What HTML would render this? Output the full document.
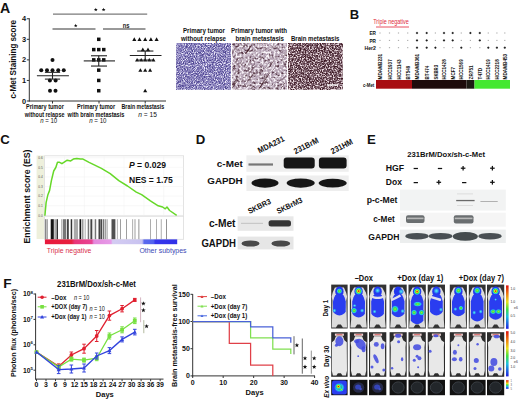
<!DOCTYPE html>
<html><head><meta charset="utf-8"><style>
html,body{margin:0;padding:0;background:#fff;}
svg{display:block;}
text{font-family:"Liberation Sans",sans-serif;}
</style></head><body>
<svg width="520" height="399" viewBox="0 0 520 399">
<text x="0" y="12.9" font-size="13.8" font-weight="bold" text-anchor="start" fill="#111" textLength="10.2" lengthAdjust="spacingAndGlyphs">A</text>
<line x1="29.3" y1="18.260000000000005" x2="29.3" y2="101.5" stroke="#333" stroke-width="1"/>
<line x1="28.8" y1="101.0" x2="166" y2="101.0" stroke="#333" stroke-width="1"/>
<line x1="26.8" y1="101.0" x2="29.3" y2="101.0" stroke="#333" stroke-width="1"/>
<text x="26.0" y="103.6" font-size="7.4" font-weight="bold" text-anchor="end" fill="#111">0</text>
<line x1="26.8" y1="80.44" x2="29.3" y2="80.44" stroke="#333" stroke-width="1"/>
<text x="26.0" y="83.03999999999999" font-size="7.4" font-weight="bold" text-anchor="end" fill="#111">1</text>
<line x1="26.8" y1="59.88" x2="29.3" y2="59.88" stroke="#333" stroke-width="1"/>
<text x="26.0" y="62.480000000000004" font-size="7.4" font-weight="bold" text-anchor="end" fill="#111">2</text>
<line x1="26.8" y1="39.32000000000001" x2="29.3" y2="39.32000000000001" stroke="#333" stroke-width="1"/>
<text x="26.0" y="41.92000000000001" font-size="7.4" font-weight="bold" text-anchor="end" fill="#111">3</text>
<line x1="26.8" y1="18.760000000000005" x2="29.3" y2="18.760000000000005" stroke="#333" stroke-width="1"/>
<text x="26.0" y="21.360000000000007" font-size="7.4" font-weight="bold" text-anchor="end" fill="#111">4</text>
<line x1="52.5" y1="101.0" x2="52.5" y2="103.5" stroke="#333" stroke-width="1"/>
<line x1="99" y1="101.0" x2="99" y2="103.5" stroke="#333" stroke-width="1"/>
<line x1="145.2" y1="101.0" x2="145.2" y2="103.5" stroke="#333" stroke-width="1"/>
<text x="16.0" y="59.3" font-size="8.4" font-weight="bold" text-anchor="middle" fill="#111" textLength="78.6" lengthAdjust="spacingAndGlyphs" transform="rotate(-90 16.0 59.3)">c-Met Staining score</text>
<line x1="53" y1="14.2" x2="147.2" y2="14.2" stroke="#7a7a7a" stroke-width="1.3"/>
<polygon points="95.80,7.70 96.29,9.02 97.70,9.08 96.60,9.96 96.98,11.32 95.80,10.54 94.62,11.32 95.00,9.96 93.90,9.08 95.31,9.02" fill="#111"/>
<polygon points="103.60,7.70 104.09,9.02 105.50,9.08 104.40,9.96 104.78,11.32 103.60,10.54 102.42,11.32 102.80,9.96 101.70,9.08 103.11,9.02" fill="#111"/>
<line x1="52.5" y1="29" x2="95.5" y2="29" stroke="#777" stroke-width="1.3"/>
<polygon points="75.70,23.70 76.17,24.95 77.51,25.01 76.46,25.85 76.82,27.14 75.70,26.40 74.58,27.14 74.94,25.85 73.89,25.01 75.23,24.95" fill="#111"/>
<line x1="103" y1="29" x2="145.5" y2="29" stroke="#777" stroke-width="1.3"/>
<text x="126.2" y="27.9" font-size="7" font-weight="bold" text-anchor="middle" fill="#222" textLength="6.8" lengthAdjust="spacingAndGlyphs">ns</text>
<circle cx="52.5" cy="59.88" r="2" fill="#111"/>
<circle cx="41.25" cy="70.16" r="2" fill="#111"/>
<circle cx="47" cy="70.16" r="2" fill="#111"/>
<circle cx="52.5" cy="70.16" r="2" fill="#111"/>
<circle cx="58.25" cy="70.16" r="2" fill="#111"/>
<circle cx="63.75" cy="70.16" r="2" fill="#111"/>
<circle cx="49.9" cy="80.44" r="2" fill="#111"/>
<circle cx="55.6" cy="80.44" r="2" fill="#111"/>
<circle cx="50" cy="90.72" r="2" fill="#111"/>
<circle cx="55.5" cy="90.72" r="2" fill="#111"/>
<line x1="36.9" y1="75.7112" x2="68.9" y2="75.7112" stroke="#222" stroke-width="1.1"/>
<line x1="44.9" y1="72.31880000000001" x2="60.1" y2="72.31880000000001" stroke="#222" stroke-width="1.1"/>
<line x1="44.9" y1="79.1036" x2="60.1" y2="79.1036" stroke="#222" stroke-width="1.1"/>
<line x1="52.5" y1="72.31880000000001" x2="52.5" y2="79.1036" stroke="#222" stroke-width="1.1"/>
<rect x="97.0" y="37.57000000000001" width="3.5" height="3.5" fill="#111" />
<rect x="92.0" y="47.85" width="3.5" height="3.5" fill="#111" />
<rect x="97.0" y="47.85" width="3.5" height="3.5" fill="#111" />
<rect x="102.0" y="47.85" width="3.5" height="3.5" fill="#111" />
<rect x="92.0" y="58.13" width="3.5" height="3.5" fill="#111" />
<rect x="97.0" y="58.13" width="3.5" height="3.5" fill="#111" />
<rect x="102.0" y="58.13" width="3.5" height="3.5" fill="#111" />
<rect x="97.0" y="68.41" width="3.5" height="3.5" fill="#111" />
<rect x="97.0" y="78.69" width="3.5" height="3.5" fill="#111" />
<rect x="97.0" y="88.97" width="3.5" height="3.5" fill="#111" />
<line x1="83.75" y1="60.908" x2="115" y2="60.908" stroke="#222" stroke-width="1.1"/>
<line x1="91" y1="55.768" x2="107" y2="55.768" stroke="#222" stroke-width="1.1"/>
<line x1="91" y1="66.048" x2="107" y2="66.048" stroke="#222" stroke-width="1.1"/>
<line x1="98.75" y1="55.768" x2="98.75" y2="66.048" stroke="#222" stroke-width="1.1"/>
<path d="M132.25 40.92L136.35 40.92L134.30 37.32Z" fill="#111"/>
<path d="M137.45 40.92L141.55 40.92L139.50 37.32Z" fill="#111"/>
<path d="M143.15 40.92L147.25 40.92L145.20 37.32Z" fill="#111"/>
<path d="M148.85 40.92L152.95 40.92L150.90 37.32Z" fill="#111"/>
<path d="M154.55 40.92L158.65 40.92L156.60 37.32Z" fill="#111"/>
<path d="M140.75 51.20L144.85 51.20L142.80 47.60Z" fill="#111"/>
<path d="M145.95 51.20L150.05 51.20L148.00 47.60Z" fill="#111"/>
<path d="M135.05 61.48L139.15 61.48L137.10 57.88Z" fill="#111"/>
<path d="M139.15 61.48L143.25 61.48L141.20 57.88Z" fill="#111"/>
<path d="M143.15 61.48L147.25 61.48L145.20 57.88Z" fill="#111"/>
<path d="M147.25 61.48L151.35 61.48L149.30 57.88Z" fill="#111"/>
<path d="M151.35 61.48L155.45 61.48L153.40 57.88Z" fill="#111"/>
<path d="M138.35 71.76L142.45 71.76L140.40 68.16Z" fill="#111"/>
<path d="M143.15 71.76L147.25 71.76L145.20 68.16Z" fill="#111"/>
<path d="M148.05 71.76L152.15 71.76L150.10 68.16Z" fill="#111"/>
<path d="M143.15 92.32L147.25 92.32L145.20 88.72Z" fill="#111"/>
<line x1="129.8" y1="55.562400000000004" x2="161.5" y2="55.562400000000004" stroke="#222" stroke-width="1.1"/>
<line x1="137.1" y1="51.0392" x2="153.4" y2="51.0392" stroke="#222" stroke-width="1.1"/>
<line x1="137.1" y1="60.0856" x2="153.4" y2="60.0856" stroke="#222" stroke-width="1.1"/>
<line x1="145.2" y1="51.0392" x2="145.2" y2="60.0856" stroke="#222" stroke-width="1.1"/>
<text x="44.9" y="109.2" font-size="6.3" font-weight="bold" text-anchor="middle" fill="#111" textLength="37.8" lengthAdjust="spacingAndGlyphs">Primary tumor</text>
<text x="44.6" y="116.9" font-size="6.3" font-weight="bold" text-anchor="middle" fill="#111" textLength="39.6" lengthAdjust="spacingAndGlyphs">without relapse</text>
<text x="48.65" y="123.3" font-size="6.4" font-weight="normal" text-anchor="middle" fill="#111" textLength="17" lengthAdjust="spacingAndGlyphs"><tspan font-style="italic">n</tspan> = 10</text>
<text x="96.15" y="109.2" font-size="6.3" font-weight="bold" text-anchor="middle" fill="#111" textLength="38.1" lengthAdjust="spacingAndGlyphs">Primary tumor</text>
<text x="96.0" y="116.9" font-size="6.3" font-weight="bold" text-anchor="middle" fill="#111" textLength="56.8" lengthAdjust="spacingAndGlyphs">with brain metastasis</text>
<text x="97.85" y="123.3" font-size="6.4" font-weight="normal" text-anchor="middle" fill="#111" textLength="17.3" lengthAdjust="spacingAndGlyphs"><tspan font-style="italic">n</tspan> = 10</text>
<text x="142.85" y="109.2" font-size="6.3" font-weight="bold" text-anchor="middle" fill="#111" textLength="42.7" lengthAdjust="spacingAndGlyphs">Brain metastasis</text>
<text x="147.65" y="116.9" font-size="6.4" font-weight="normal" text-anchor="middle" fill="#111" textLength="18.7" lengthAdjust="spacingAndGlyphs"><tspan font-style="italic">n</tspan> = 15</text>
<defs><filter id="d1" x="0" y="0" width="100%" height="100%" color-interpolation-filters="sRGB"><feTurbulence type="fractalNoise" baseFrequency="0.9" numOctaves="2" seed="3"/><feColorMatrix type="matrix" values="0 0 0 0 0.3  0 0 0 0 0.26  0 0 0 0 0.56  3.6 0 0 0 -1.4"/></filter><filter id="w1" x="0" y="0" width="100%" height="100%" color-interpolation-filters="sRGB"><feTurbulence type="fractalNoise" baseFrequency="0.9" numOctaves="2" seed="9"/><feColorMatrix type="matrix" values="0 0 0 0 0.93  0 0 0 0 0.92  0 0 0 0 0.98  3.6 0 0 0 -1.65"/></filter><filter id="d2" x="0" y="0" width="100%" height="100%" color-interpolation-filters="sRGB"><feTurbulence type="fractalNoise" baseFrequency="0.25 0.4" numOctaves="3" seed="11"/><feColorMatrix type="matrix" values="0 0 0 0 0.36  0 0 0 0 0.24  0 0 0 0 0.3  4.5 0 0 0 -2.15"/></filter><filter id="w2" x="0" y="0" width="100%" height="100%" color-interpolation-filters="sRGB"><feTurbulence type="fractalNoise" baseFrequency="0.5" numOctaves="2" seed="4"/><feColorMatrix type="matrix" values="0 0 0 0 0.96  0 0 0 0 0.94  0 0 0 0 0.96  4.5 0 0 0 -1.95"/></filter><filter id="d3" x="0" y="0" width="100%" height="100%" color-interpolation-filters="sRGB"><feTurbulence type="fractalNoise" baseFrequency="0.65" numOctaves="2" seed="5"/><feColorMatrix type="matrix" values="0 0 0 0 0.24  0 0 0 0 0.1  0 0 0 0 0.14  4.5 0 0 0 -1.85"/></filter><filter id="w3" x="0" y="0" width="100%" height="100%" color-interpolation-filters="sRGB"><feTurbulence type="fractalNoise" baseFrequency="0.75" numOctaves="2" seed="6"/><feColorMatrix type="matrix" values="0 0 0 0 0.92  0 0 0 0 0.86  0 0 0 0 0.88  4.5 0 0 0 -2.05"/></filter></defs>
<rect x="176.3" y="43" width="54.5" height="46.5" fill="#8a82c0" />
<rect x="176.3" y="43" width="54.5" height="46.5" fill="#000" filter="url(#d1)"/>
<rect x="176.3" y="43" width="54.5" height="46.5" fill="#000" filter="url(#w1)"/>
<rect x="232" y="43" width="55" height="46.5" fill="#b4a2b4" />
<rect x="232" y="43" width="55" height="46.5" fill="#000" filter="url(#d2)"/>
<rect x="232" y="43" width="55" height="46.5" fill="#000" filter="url(#w2)"/>
<defs><clipPath id="c2"><rect x="232" y="43" width="55" height="46.5"/></clipPath><filter id="s2" x="0" y="0" width="100%" height="100%" color-interpolation-filters="sRGB"><feTurbulence type="fractalNoise" baseFrequency="0.05 0.45" numOctaves="2" seed="21"/><feColorMatrix type="matrix" values="0 0 0 0 0.28  0 0 0 0 0.14  0 0 0 0 0.18  5 0 0 0 -3.0"/></filter><filter id="s2w" x="0" y="0" width="100%" height="100%" color-interpolation-filters="sRGB"><feTurbulence type="fractalNoise" baseFrequency="0.05 0.5" numOctaves="2" seed="33"/><feColorMatrix type="matrix" values="0 0 0 0 0.97  0 0 0 0 0.96  0 0 0 0 0.98  5 0 0 0 -3.1"/></filter></defs>
<g clip-path="url(#c2)"><rect x="220" y="30" width="80" height="75" transform="rotate(-55 259.5 66)" filter="url(#s2)"/><rect x="220" y="30" width="80" height="75" transform="rotate(-55 259.5 66)" filter="url(#s2w)"/></g>
<rect x="288.3" y="43" width="54.2" height="46.5" fill="#6c4e5c" />
<rect x="288.3" y="43" width="54.2" height="46.5" fill="#000" filter="url(#d3)"/>
<rect x="288.3" y="43" width="54.2" height="46.5" fill="#000" filter="url(#w3)"/>
<rect x="326.9" y="84.3" width="10.6" height="1.4" fill="#fff" />
<text x="204" y="33" font-size="7.6" font-weight="bold" text-anchor="middle" fill="#111" textLength="42" lengthAdjust="spacingAndGlyphs">Primary tumor</text>
<text x="203.5" y="41.1" font-size="7.6" font-weight="bold" text-anchor="middle" fill="#111" textLength="45" lengthAdjust="spacingAndGlyphs">without relapse</text>
<text x="259" y="33" font-size="7.6" font-weight="bold" text-anchor="middle" fill="#111" textLength="56" lengthAdjust="spacingAndGlyphs">Primary tumor with</text>
<text x="259.7" y="41.1" font-size="7.6" font-weight="bold" text-anchor="middle" fill="#111" textLength="48.5" lengthAdjust="spacingAndGlyphs">brain metastasis</text>
<text x="315.2" y="41.1" font-size="7.6" font-weight="bold" text-anchor="middle" fill="#111" textLength="48.5" lengthAdjust="spacingAndGlyphs">Brain metastasis</text>
<text x="349.8" y="18.9" font-size="13" font-weight="bold" text-anchor="start" fill="#111">B</text>
<text x="391" y="24.2" font-size="6.6" font-weight="normal" text-anchor="middle" fill="#e02838" textLength="35.5" lengthAdjust="spacingAndGlyphs">Triple negative</text>
<line x1="376" y1="27" x2="409" y2="27" stroke="#e85060" stroke-width="1"/>
<text x="376" y="35.2" font-size="5.5" font-weight="bold" text-anchor="end" fill="#111" textLength="6.5" lengthAdjust="spacingAndGlyphs">ER</text>
<text x="376" y="42.6" font-size="5.5" font-weight="bold" text-anchor="end" fill="#111" textLength="6.5" lengthAdjust="spacingAndGlyphs">PR</text>
<text x="376" y="49.9" font-size="5.5" font-weight="bold" text-anchor="end" fill="#111" textLength="11.5" lengthAdjust="spacingAndGlyphs">Her2</text>
<line x1="379.4" y1="33" x2="380.6" y2="33" stroke="#666" stroke-width="0.6"/>
<line x1="379.4" y1="40.4" x2="380.6" y2="40.4" stroke="#666" stroke-width="0.6"/>
<line x1="379.4" y1="47.7" x2="380.6" y2="47.7" stroke="#666" stroke-width="0.6"/>
<text x="382.2" y="79.4" font-size="5.4" font-weight="bold" text-anchor="start" fill="#111" textLength="25.6" lengthAdjust="spacingAndGlyphs" transform="rotate(-90 382.2 79.4)">MDAMB231</text>
<line x1="388.9" y1="33" x2="390.1" y2="33" stroke="#666" stroke-width="0.6"/>
<line x1="388.9" y1="40.4" x2="390.1" y2="40.4" stroke="#666" stroke-width="0.6"/>
<line x1="388.9" y1="47.7" x2="390.1" y2="47.7" stroke="#666" stroke-width="0.6"/>
<text x="391.7" y="79.4" font-size="5.4" font-weight="bold" text-anchor="start" fill="#111" textLength="20.1" lengthAdjust="spacingAndGlyphs" transform="rotate(-90 391.7 79.4)">HCC1937</text>
<line x1="397.9" y1="33" x2="399.1" y2="33" stroke="#666" stroke-width="0.6"/>
<line x1="397.9" y1="40.4" x2="399.1" y2="40.4" stroke="#666" stroke-width="0.6"/>
<line x1="397.9" y1="47.7" x2="399.1" y2="47.7" stroke="#666" stroke-width="0.6"/>
<text x="400.7" y="79.4" font-size="5.4" font-weight="bold" text-anchor="start" fill="#111" textLength="20.1" lengthAdjust="spacingAndGlyphs" transform="rotate(-90 400.7 79.4)">HCC1143</text>
<line x1="407.09999999999997" y1="33" x2="408.3" y2="33" stroke="#666" stroke-width="0.6"/>
<line x1="407.09999999999997" y1="40.4" x2="408.3" y2="40.4" stroke="#666" stroke-width="0.6"/>
<line x1="407.09999999999997" y1="47.7" x2="408.3" y2="47.7" stroke="#666" stroke-width="0.6"/>
<text x="409.9" y="79.4" font-size="5.4" font-weight="bold" text-anchor="start" fill="#111" textLength="13.6" lengthAdjust="spacingAndGlyphs" transform="rotate(-90 409.9 79.4)">BT549</text>
<line x1="415.9" y1="33" x2="418.1" y2="33" stroke="#111" stroke-width="0.9"/>
<line x1="417" y1="31.9" x2="417" y2="34.1" stroke="#111" stroke-width="0.9"/>
<line x1="415.9" y1="40.4" x2="418.1" y2="40.4" stroke="#111" stroke-width="0.9"/>
<line x1="417" y1="39.3" x2="417" y2="41.5" stroke="#111" stroke-width="0.9"/>
<line x1="415.9" y1="47.7" x2="418.1" y2="47.7" stroke="#111" stroke-width="0.9"/>
<line x1="417" y1="46.6" x2="417" y2="48.800000000000004" stroke="#111" stroke-width="0.9"/>
<text x="419.2" y="79.4" font-size="5.4" font-weight="bold" text-anchor="start" fill="#111" textLength="25.6" lengthAdjust="spacingAndGlyphs" transform="rotate(-90 419.2 79.4)">MDAMB361</text>
<line x1="425.59999999999997" y1="33" x2="427.8" y2="33" stroke="#111" stroke-width="0.9"/>
<line x1="426.7" y1="31.9" x2="426.7" y2="34.1" stroke="#111" stroke-width="0.9"/>
<line x1="425.59999999999997" y1="40.4" x2="427.8" y2="40.4" stroke="#111" stroke-width="0.9"/>
<line x1="426.7" y1="39.3" x2="426.7" y2="41.5" stroke="#111" stroke-width="0.9"/>
<line x1="425.59999999999997" y1="47.7" x2="427.8" y2="47.7" stroke="#111" stroke-width="0.9"/>
<line x1="426.7" y1="46.6" x2="426.7" y2="48.800000000000004" stroke="#111" stroke-width="0.9"/>
<text x="428.9" y="79.4" font-size="5.4" font-weight="bold" text-anchor="start" fill="#111" textLength="13.6" lengthAdjust="spacingAndGlyphs" transform="rotate(-90 428.9 79.4)">BT474</text>
<line x1="434.79999999999995" y1="33" x2="436.0" y2="33" stroke="#666" stroke-width="0.6"/>
<line x1="434.79999999999995" y1="40.4" x2="436.0" y2="40.4" stroke="#666" stroke-width="0.6"/>
<line x1="434.29999999999995" y1="47.7" x2="436.5" y2="47.7" stroke="#111" stroke-width="0.9"/>
<line x1="435.4" y1="46.6" x2="435.4" y2="48.800000000000004" stroke="#111" stroke-width="0.9"/>
<text x="437.59999999999997" y="79.4" font-size="5.4" font-weight="bold" text-anchor="start" fill="#111" textLength="14.5" lengthAdjust="spacingAndGlyphs" transform="rotate(-90 437.59999999999997 79.4)">SKBR3</text>
<line x1="442.9" y1="33" x2="445.1" y2="33" stroke="#111" stroke-width="0.9"/>
<line x1="444" y1="31.9" x2="444" y2="34.1" stroke="#111" stroke-width="0.9"/>
<line x1="442.9" y1="40.4" x2="445.1" y2="40.4" stroke="#111" stroke-width="0.9"/>
<line x1="444" y1="39.3" x2="444" y2="41.5" stroke="#111" stroke-width="0.9"/>
<line x1="443.4" y1="47.7" x2="444.6" y2="47.7" stroke="#666" stroke-width="0.6"/>
<text x="446.2" y="79.4" font-size="5.4" font-weight="bold" text-anchor="start" fill="#111" textLength="20.1" lengthAdjust="spacingAndGlyphs" transform="rotate(-90 446.2 79.4)">HCC1428</text>
<line x1="451.59999999999997" y1="33" x2="453.8" y2="33" stroke="#111" stroke-width="0.9"/>
<line x1="452.7" y1="31.9" x2="452.7" y2="34.1" stroke="#111" stroke-width="0.9"/>
<line x1="451.59999999999997" y1="40.4" x2="453.8" y2="40.4" stroke="#111" stroke-width="0.9"/>
<line x1="452.7" y1="39.3" x2="452.7" y2="41.5" stroke="#111" stroke-width="0.9"/>
<line x1="452.09999999999997" y1="47.7" x2="453.3" y2="47.7" stroke="#666" stroke-width="0.6"/>
<text x="454.9" y="79.4" font-size="5.4" font-weight="bold" text-anchor="start" fill="#111" textLength="12.5" lengthAdjust="spacingAndGlyphs" transform="rotate(-90 454.9 79.4)">MCF7</text>
<line x1="460.7" y1="33" x2="461.90000000000003" y2="33" stroke="#666" stroke-width="0.6"/>
<line x1="460.7" y1="40.4" x2="461.90000000000003" y2="40.4" stroke="#666" stroke-width="0.6"/>
<line x1="460.2" y1="47.7" x2="462.40000000000003" y2="47.7" stroke="#111" stroke-width="0.9"/>
<line x1="461.3" y1="46.6" x2="461.3" y2="48.800000000000004" stroke="#111" stroke-width="0.9"/>
<text x="463.5" y="79.4" font-size="5.4" font-weight="bold" text-anchor="start" fill="#111" textLength="20.1" lengthAdjust="spacingAndGlyphs" transform="rotate(-90 463.5 79.4)">HCC1569</text>
<line x1="469.29999999999995" y1="33" x2="471.5" y2="33" stroke="#111" stroke-width="0.9"/>
<line x1="470.4" y1="31.9" x2="470.4" y2="34.1" stroke="#111" stroke-width="0.9"/>
<line x1="469.79999999999995" y1="40.4" x2="471.0" y2="40.4" stroke="#666" stroke-width="0.6"/>
<line x1="469.79999999999995" y1="47.7" x2="471.0" y2="47.7" stroke="#666" stroke-width="0.6"/>
<text x="472.59999999999997" y="79.4" font-size="5.4" font-weight="bold" text-anchor="start" fill="#111" textLength="14" lengthAdjust="spacingAndGlyphs" transform="rotate(-90 472.59999999999997 79.4)">ZR751</text>
<line x1="478.7" y1="33" x2="480.90000000000003" y2="33" stroke="#111" stroke-width="0.9"/>
<line x1="479.8" y1="31.9" x2="479.8" y2="34.1" stroke="#111" stroke-width="0.9"/>
<line x1="478.7" y1="40.4" x2="480.90000000000003" y2="40.4" stroke="#111" stroke-width="0.9"/>
<line x1="479.8" y1="39.3" x2="479.8" y2="41.5" stroke="#111" stroke-width="0.9"/>
<line x1="479.2" y1="47.7" x2="480.40000000000003" y2="47.7" stroke="#666" stroke-width="0.6"/>
<text x="482.0" y="79.4" font-size="5.4" font-weight="bold" text-anchor="start" fill="#111" textLength="11.5" lengthAdjust="spacingAndGlyphs" transform="rotate(-90 482.0 79.4)">T47D</text>
<line x1="487.7" y1="33" x2="488.90000000000003" y2="33" stroke="#666" stroke-width="0.6"/>
<line x1="487.7" y1="40.4" x2="488.90000000000003" y2="40.4" stroke="#666" stroke-width="0.6"/>
<line x1="487.2" y1="47.7" x2="489.40000000000003" y2="47.7" stroke="#111" stroke-width="0.9"/>
<line x1="488.3" y1="46.6" x2="488.3" y2="48.800000000000004" stroke="#111" stroke-width="0.9"/>
<text x="490.5" y="79.4" font-size="5.4" font-weight="bold" text-anchor="start" fill="#111" textLength="20.1" lengthAdjust="spacingAndGlyphs" transform="rotate(-90 490.5 79.4)">HCC1419</text>
<line x1="496.29999999999995" y1="33" x2="497.5" y2="33" stroke="#666" stroke-width="0.6"/>
<line x1="496.29999999999995" y1="40.4" x2="497.5" y2="40.4" stroke="#666" stroke-width="0.6"/>
<line x1="495.79999999999995" y1="47.7" x2="498.0" y2="47.7" stroke="#111" stroke-width="0.9"/>
<line x1="496.9" y1="46.6" x2="496.9" y2="48.800000000000004" stroke="#111" stroke-width="0.9"/>
<text x="499.09999999999997" y="79.4" font-size="5.4" font-weight="bold" text-anchor="start" fill="#111" textLength="20.1" lengthAdjust="spacingAndGlyphs" transform="rotate(-90 499.09999999999997 79.4)">HCC2218</text>
<line x1="504.2" y1="33" x2="505.40000000000003" y2="33" stroke="#666" stroke-width="0.6"/>
<line x1="504.2" y1="40.4" x2="505.40000000000003" y2="40.4" stroke="#666" stroke-width="0.6"/>
<line x1="503.7" y1="47.7" x2="505.90000000000003" y2="47.7" stroke="#111" stroke-width="0.9"/>
<line x1="504.8" y1="46.6" x2="504.8" y2="48.800000000000004" stroke="#111" stroke-width="0.9"/>
<text x="507.0" y="79.4" font-size="5.4" font-weight="bold" text-anchor="start" fill="#111" textLength="25.6" lengthAdjust="spacingAndGlyphs" transform="rotate(-90 507.0 79.4)">MDAMB453</text>
<rect x="376" y="80" width="36" height="8.7" fill="#a80e12" />
<rect x="412" y="80" width="54.5" height="8.7" fill="#1e0c0c" />
<rect x="466.5" y="80" width="8" height="8.7" fill="#1c1a14" />
<rect x="474.5" y="80" width="35.5" height="8.7" fill="#44e830" />
<text x="374.3" y="86.8" font-size="5.4" font-weight="bold" text-anchor="end" fill="#111" textLength="11.4" lengthAdjust="spacingAndGlyphs">c-Met</text>
<text x="0.3" y="143.8" font-size="13.2" font-weight="bold" text-anchor="start" fill="#111">C</text>
<rect x="36.6" y="155.5" width="8" height="83.5" fill="#eef0dc" />
<rect x="44.6" y="155.8" width="139" height="60" fill="#fff" stroke="#ddd" stroke-width="0.8"/>
<line x1="64.45714285714286" y1="156" x2="64.45714285714286" y2="215.5" stroke="#f0f0f0" stroke-width="0.5"/>
<line x1="84.31428571428572" y1="156" x2="84.31428571428572" y2="215.5" stroke="#f0f0f0" stroke-width="0.5"/>
<line x1="104.17142857142858" y1="156" x2="104.17142857142858" y2="215.5" stroke="#f0f0f0" stroke-width="0.5"/>
<line x1="124.02857142857144" y1="156" x2="124.02857142857144" y2="215.5" stroke="#f0f0f0" stroke-width="0.5"/>
<line x1="143.8857142857143" y1="156" x2="143.8857142857143" y2="215.5" stroke="#f0f0f0" stroke-width="0.5"/>
<line x1="163.74285714285713" y1="156" x2="163.74285714285713" y2="215.5" stroke="#f0f0f0" stroke-width="0.5"/>
<line x1="44.6" y1="215.3" x2="183.6" y2="215.3" stroke="#f0f0f0" stroke-width="0.5"/>
<text x="42.8" y="216.5" font-size="3.2" font-weight="normal" text-anchor="end" fill="#555">0.0</text>
<line x1="44.6" y1="205.70000000000002" x2="183.6" y2="205.70000000000002" stroke="#f0f0f0" stroke-width="0.5"/>
<text x="42.8" y="206.9" font-size="3.2" font-weight="normal" text-anchor="end" fill="#555">0.1</text>
<line x1="44.6" y1="196.10000000000002" x2="183.6" y2="196.10000000000002" stroke="#f0f0f0" stroke-width="0.5"/>
<text x="42.8" y="197.3" font-size="3.2" font-weight="normal" text-anchor="end" fill="#555">0.2</text>
<line x1="44.6" y1="186.5" x2="183.6" y2="186.5" stroke="#f0f0f0" stroke-width="0.5"/>
<text x="42.8" y="187.7" font-size="3.2" font-weight="normal" text-anchor="end" fill="#555">0.3</text>
<line x1="44.6" y1="176.9" x2="183.6" y2="176.9" stroke="#f0f0f0" stroke-width="0.5"/>
<text x="42.8" y="178.1" font-size="3.2" font-weight="normal" text-anchor="end" fill="#555">0.4</text>
<line x1="44.6" y1="167.3" x2="183.6" y2="167.3" stroke="#f0f0f0" stroke-width="0.5"/>
<text x="42.8" y="168.5" font-size="3.2" font-weight="normal" text-anchor="end" fill="#555">0.5</text>
<line x1="44.6" y1="157.70000000000002" x2="183.6" y2="157.70000000000002" stroke="#f0f0f0" stroke-width="0.5"/>
<text x="42.8" y="158.9" font-size="3.2" font-weight="normal" text-anchor="end" fill="#555">0.6</text>
<rect x="44.6" y="216.3" width="139" height="23" fill="#fff" stroke="#ddd" stroke-width="0.8"/>
<polyline points="44.9,215.8 46.1,202.6 47.9,194.7 49.6,190.4 51.4,180.7 53.7,171 55.8,167.5 57.5,162.3 59.6,162.3 61.9,163.7 64.6,161.9 67.2,160.2 70.7,160.9 73.3,159.1 76.8,158.4 80.4,159.1 83,159.1 89.1,162.3 101.4,168.4 110.2,173.7 118.8,180.7 127.5,186 136.3,192.1 141.6,194.7 150.4,200.9 158.2,205.8 162.6,207 165.3,208.8 167,207 169.6,210.5 176.7,215.3" fill="none" stroke="#66d828" stroke-width="1.5" stroke-linejoin="round"/>
<rect x="44.90" y="219.2" width="1.6" height="20.2" fill="#888" />
<rect x="46.80" y="219.2" width="1.2" height="20.2" fill="#aaa" />
<rect x="50.70" y="219.2" width="3.1" height="20.2" fill="#151515" />
<rect x="54.50" y="219.2" width="1.2" height="20.2" fill="#888" />
<rect x="56.50" y="219.2" width="1.5" height="20.2" fill="#333" />
<rect x="61.00" y="219.2" width="1.6" height="20.2" fill="#bbb" />
<rect x="63.00" y="219.2" width="3" height="20.2" fill="#777" />
<rect x="66.80" y="219.2" width="2" height="20.2" fill="#444" />
<rect x="70.70" y="219.2" width="1.5" height="20.2" fill="#333" />
<rect x="73.80" y="219.2" width="4.2" height="20.2" fill="#aaa" />
<rect x="79.50" y="219.2" width="1.7" height="20.2" fill="#111" />
<rect x="81.90" y="219.2" width="1.6" height="20.2" fill="#999" />
<rect x="84.60" y="219.2" width="1.2" height="20.2" fill="#bbb" />
<rect x="87.70" y="219.2" width="1.5" height="20.2" fill="#777" />
<rect x="90.40" y="219.2" width="1.9" height="20.2" fill="#444" />
<rect x="93.80" y="219.2" width="0.8" height="20.2" fill="#bbb" />
<rect x="95.00" y="219.2" width="1.2" height="20.2" fill="#777" />
<rect x="98.50" y="219.2" width="1.5" height="20.2" fill="#444" />
<rect x="100.40" y="219.2" width="1.5" height="20.2" fill="#333" />
<rect x="102.70" y="219.2" width="1.1" height="20.2" fill="#555" />
<rect x="104.60" y="219.2" width="1.2" height="20.2" fill="#888" />
<rect x="106.50" y="219.2" width="1.2" height="20.2" fill="#aaa" />
<rect x="111.50" y="219.2" width="3.9" height="20.2" fill="#505050" />
<rect x="116.90" y="219.2" width="1.1" height="20.2" fill="#bbb" />
<rect x="120.00" y="219.2" width="0.8" height="20.2" fill="#888" />
<rect x="126.20" y="219.2" width="0.8" height="20.2" fill="#888" />
<rect x="132.30" y="219.2" width="0.8" height="20.2" fill="#999" />
<rect x="134.60" y="219.2" width="0.8" height="20.2" fill="#888" />
<rect x="138.50" y="219.2" width="0.8" height="20.2" fill="#777" />
<rect x="150.00" y="219.2" width="0.8" height="20.2" fill="#999" />
<rect x="156.20" y="219.2" width="0.8" height="20.2" fill="#999" />
<rect x="160.80" y="219.2" width="0.8" height="20.2" fill="#999" />
<rect x="166.20" y="219.2" width="0.8" height="20.2" fill="#777" />
<defs><linearGradient id="cbar" x1="0" x2="1" y1="0" y2="0">
<stop offset="0" stop-color="#e8183c"/><stop offset="0.2" stop-color="#e8203e"/><stop offset="0.225" stop-color="#e83478"/><stop offset="0.355" stop-color="#e84494"/><stop offset="0.37" stop-color="#e488dc"/><stop offset="0.5" stop-color="#e69ae8"/><stop offset="0.512" stop-color="#d4ccf2"/><stop offset="0.735" stop-color="#c8c2f0"/><stop offset="0.75" stop-color="#5a68ee"/><stop offset="0.82" stop-color="#5262ee"/><stop offset="0.835" stop-color="#3636ec"/><stop offset="1" stop-color="#3030e8"/>
</linearGradient></defs>
<rect x="44.9" y="239.4" width="132.3" height="4.8" fill="url(#cbar)" />
<text x="46.8" y="252.6" font-size="7.8" font-weight="normal" text-anchor="start" fill="#d8304c" textLength="44.6" lengthAdjust="spacingAndGlyphs">Triple negative</text>
<text x="139.4" y="252.6" font-size="7.8" font-weight="normal" text-anchor="start" fill="#3c48b4" textLength="47.2" lengthAdjust="spacingAndGlyphs">Other subtypes</text>
<text x="29.5" y="196.5" font-size="8.8" font-weight="bold" text-anchor="middle" fill="#111" textLength="94.1" lengthAdjust="spacingAndGlyphs" transform="rotate(-90 29.5 196.5)">Enrichment score (ES)</text>
<text x="129" y="167.9" font-size="8.4" font-weight="bold" fill="#111" textLength="37" lengthAdjust="spacingAndGlyphs"><tspan font-style="italic">P</tspan> = 0.029</text>
<text x="129" y="182.8" font-size="8.4" font-weight="bold" text-anchor="start" fill="#111" textLength="43.8" lengthAdjust="spacingAndGlyphs">NES = 1.75</text>
<text x="195.7" y="143.8" font-size="13.2" font-weight="bold" text-anchor="start" fill="#111">D</text>
<rect x="246.4" y="155.3" width="102.3" height="16.5" fill="#efefef" />
<rect x="246.4" y="175.5" width="102.3" height="15.5" fill="#eeeeee" />
<defs><filter id="bl" x="-20%" y="-50%" width="140%" height="200%"><feGaussianBlur stdDeviation="0.6"/></filter><filter id="bl2" x="-20%" y="-50%" width="140%" height="200%"><feGaussianBlur stdDeviation="1"/></filter></defs>
<g filter="url(#bl)">
<rect x="248.5" y="163.4" width="24.5" height="2.2" fill="#777" />
<rect x="283.7" y="157.5" width="31" height="11" rx="3" fill="#141414"/>
<rect x="318.9" y="157.5" width="27.7" height="11" rx="3" fill="#141414"/>
<ellipse cx="265" cy="183.1" rx="13.5" ry="4.6" fill="#161616"/>
<ellipse cx="300.7" cy="183.1" rx="14" ry="4.6" fill="#161616"/>
<ellipse cx="332.7" cy="183.1" rx="14" ry="4.4" fill="#161616"/>
</g>
<text x="242.8" y="166.8" font-size="9" font-weight="bold" text-anchor="end" fill="#111" textLength="26" lengthAdjust="spacingAndGlyphs">c-Met</text>
<text x="242.7" y="184.4" font-size="9" font-weight="bold" text-anchor="end" fill="#111" textLength="35.4" lengthAdjust="spacingAndGlyphs">GAPDH</text>
<text x="259.6" y="153.6" font-size="8.2" font-weight="bold" text-anchor="start" fill="#111" textLength="28.5" lengthAdjust="spacingAndGlyphs" transform="rotate(-27 259.6 153.6)">MDA231</text>
<text x="295.6" y="154.2" font-size="8.2" font-weight="bold" text-anchor="start" fill="#111" textLength="26.5" lengthAdjust="spacingAndGlyphs" transform="rotate(-27 295.6 154.2)">231BrM</text>
<text x="332.6" y="154.2" font-size="8.2" font-weight="bold" text-anchor="start" fill="#111" textLength="23.5" lengthAdjust="spacingAndGlyphs" transform="rotate(-27 332.6 154.2)">231HM</text>
<rect x="237.6" y="216.3" width="55.9" height="14.5" fill="#e8e8e8" />
<rect x="237.6" y="236.6" width="55.9" height="12.8" fill="#e6e6e6" />
<g filter="url(#bl)">
<rect x="241" y="222.8" width="22" height="1.2" fill="#c8c8c8" />
<rect x="268.6" y="220.3" width="22.4" height="6.3" rx="2.5" fill="#363636"/>
<ellipse cx="250.5" cy="243.5" rx="9" ry="3.1" fill="#484848"/>
<ellipse cx="280.8" cy="243.5" rx="9.4" ry="3.1" fill="#484848"/>
</g>
<text x="235.5" y="227" font-size="10" font-weight="bold" text-anchor="end" fill="#111" textLength="26.6" lengthAdjust="spacingAndGlyphs">c-Met</text>
<text x="236" y="247.3" font-size="10" font-weight="bold" text-anchor="end" fill="#111" textLength="34.6" lengthAdjust="spacingAndGlyphs">GAPDH</text>
<text x="249.5" y="214" font-size="7.8" font-weight="bold" text-anchor="start" fill="#111" textLength="24.5" lengthAdjust="spacingAndGlyphs" transform="rotate(-26 249.5 214)">SKBR3</text>
<text x="278.3" y="214" font-size="7.8" font-weight="bold" text-anchor="start" fill="#111" textLength="27.5" lengthAdjust="spacingAndGlyphs" transform="rotate(-26 278.3 214)">SKBrM3</text>
<text x="366.9" y="143.8" font-size="13.2" font-weight="bold" text-anchor="start" fill="#111">E</text>
<text x="446.1" y="157" font-size="7.4" font-weight="bold" text-anchor="middle" fill="#111" textLength="77.8" lengthAdjust="spacingAndGlyphs">231BrM/Dox/sh-c-Met</text>
<text x="385.8" y="170.8" font-size="8.2" font-weight="bold" text-anchor="start" fill="#111" textLength="18.4" lengthAdjust="spacingAndGlyphs">HGF</text>
<text x="385.8" y="184.7" font-size="8.2" font-weight="bold" text-anchor="start" fill="#111" textLength="16.1" lengthAdjust="spacingAndGlyphs">Dox</text>
<line x1="413.65000000000003" y1="168.5" x2="417.95" y2="168.5" stroke="#111" stroke-width="1.25"/>
<line x1="437.85" y1="168.5" x2="442.15" y2="168.5" stroke="#111" stroke-width="1.25"/>
<line x1="460.8" y1="168.2" x2="465.40000000000003" y2="168.2" stroke="#111" stroke-width="1.25"/>
<line x1="463.1" y1="165.89999999999998" x2="463.1" y2="170.5" stroke="#111" stroke-width="1.25"/>
<line x1="490.09999999999997" y1="168.2" x2="494.7" y2="168.2" stroke="#111" stroke-width="1.25"/>
<line x1="492.4" y1="165.89999999999998" x2="492.4" y2="170.5" stroke="#111" stroke-width="1.25"/>
<line x1="413.65000000000003" y1="182.6" x2="417.95" y2="182.6" stroke="#111" stroke-width="1.25"/>
<line x1="436.5" y1="182.3" x2="441.1" y2="182.3" stroke="#111" stroke-width="1.25"/>
<line x1="438.8" y1="180.0" x2="438.8" y2="184.60000000000002" stroke="#111" stroke-width="1.25"/>
<line x1="462.05" y1="182.6" x2="466.34999999999997" y2="182.6" stroke="#111" stroke-width="1.25"/>
<line x1="490.09999999999997" y1="182.3" x2="494.7" y2="182.3" stroke="#111" stroke-width="1.25"/>
<line x1="492.4" y1="180.0" x2="492.4" y2="184.60000000000002" stroke="#111" stroke-width="1.25"/>
<text x="397.4" y="203.3" font-size="8.2" font-weight="bold" text-anchor="end" fill="#111" textLength="30.7" lengthAdjust="spacingAndGlyphs">p-c-Met</text>
<text x="394.8" y="221.8" font-size="8.2" font-weight="bold" text-anchor="end" fill="#111" textLength="21.5" lengthAdjust="spacingAndGlyphs">c-Met</text>
<text x="399.4" y="239.9" font-size="8.2" font-weight="bold" text-anchor="end" fill="#111" textLength="31.2" lengthAdjust="spacingAndGlyphs">GAPDH</text>
<rect x="400" y="189.6" width="105.8" height="21" fill="#f2f3f3" />
<rect x="400" y="212.7" width="105.8" height="14" fill="#f5f5f5" />
<rect x="400" y="229.6" width="105.8" height="13.4" fill="#eceeee" />
<g filter="url(#bl)">
<rect x="456.2" y="199.9" width="18.4" height="1.3" fill="#6a6a6a" />
<rect x="457" y="193.5" width="16" height="0.8" fill="#d8d8d8" />
<rect x="457" y="205" width="16" height="0.8" fill="#d8d8d8" />
<rect x="480.4" y="201.1" width="17.3" height="0.9" fill="#aaa" />
<rect x="406" y="215.2" width="18.5" height="7.8" rx="2" fill="#6a6e70"/>
<rect x="407" y="217.6" width="16.5" height="1.6" fill="#b8b8b8"/>
<rect x="453.8" y="215.2" width="19.7" height="8.2" rx="2" fill="#6a6e70"/>
<rect x="454.8" y="217.6" width="17.7" height="1.6" fill="#b8b8b8"/>
<ellipse cx="417" cy="236.2" rx="11.8" ry="3.3" fill="#485052"/>
<ellipse cx="440.5" cy="236.2" rx="12" ry="3.3" fill="#485052"/>
<ellipse cx="465.3" cy="236.4" rx="12.6" ry="4.3" fill="#444c4e"/>
<ellipse cx="490" cy="236.2" rx="11.8" ry="3.3" fill="#485052"/>
</g>
<text x="3.3" y="287.6" font-size="13.2" font-weight="bold" text-anchor="start" fill="#111" textLength="8.4" lengthAdjust="spacingAndGlyphs">F</text>
<text x="96.5" y="287.4" font-size="8.2" font-weight="bold" text-anchor="middle" fill="#111" textLength="78.8" lengthAdjust="spacingAndGlyphs">231BrM/Dox/sh-c-Met</text>
<line x1="35.6" y1="293.5" x2="35.6" y2="379.5" stroke="#333" stroke-width="1"/>
<line x1="35.1" y1="379.1" x2="163.5" y2="379.1" stroke="#333" stroke-width="1"/>
<line x1="33.5" y1="370.2" x2="35.6" y2="370.2" stroke="#333" stroke-width="1"/>
<text x="33.0" y="372.6" font-size="6.8" font-weight="bold" text-anchor="end" fill="#111">10<tspan dy="-2.8" font-size="4.4">5</tspan></text>
<line x1="33.5" y1="344.8" x2="35.6" y2="344.8" stroke="#333" stroke-width="1"/>
<text x="33.0" y="347.2" font-size="6.8" font-weight="bold" text-anchor="end" fill="#111">10<tspan dy="-2.8" font-size="4.4">6</tspan></text>
<line x1="33.5" y1="319.4" x2="35.6" y2="319.4" stroke="#333" stroke-width="1"/>
<text x="33.0" y="321.8" font-size="6.8" font-weight="bold" text-anchor="end" fill="#111">10<tspan dy="-2.8" font-size="4.4">7</tspan></text>
<line x1="33.5" y1="294.0" x2="35.6" y2="294.0" stroke="#333" stroke-width="1"/>
<text x="33.0" y="296.4" font-size="6.8" font-weight="bold" text-anchor="end" fill="#111">10<tspan dy="-2.8" font-size="4.4">8</tspan></text>
<line x1="36.5" y1="379.1" x2="36.5" y2="381.2" stroke="#333" stroke-width="1"/>
<text x="36.5" y="386.6" font-size="6.9" font-weight="bold" text-anchor="middle" fill="#111">0</text>
<line x1="46.01" y1="379.1" x2="46.01" y2="381.2" stroke="#333" stroke-width="1"/>
<text x="46.01" y="386.6" font-size="6.9" font-weight="bold" text-anchor="middle" fill="#111">3</text>
<line x1="55.519999999999996" y1="379.1" x2="55.519999999999996" y2="381.2" stroke="#333" stroke-width="1"/>
<text x="55.519999999999996" y="386.6" font-size="6.9" font-weight="bold" text-anchor="middle" fill="#111">6</text>
<line x1="65.03" y1="379.1" x2="65.03" y2="381.2" stroke="#333" stroke-width="1"/>
<text x="65.03" y="386.6" font-size="6.9" font-weight="bold" text-anchor="middle" fill="#111">9</text>
<line x1="74.53999999999999" y1="379.1" x2="74.53999999999999" y2="381.2" stroke="#333" stroke-width="1"/>
<text x="74.53999999999999" y="386.6" font-size="6.9" font-weight="bold" text-anchor="middle" fill="#111">12</text>
<line x1="84.05" y1="379.1" x2="84.05" y2="381.2" stroke="#333" stroke-width="1"/>
<text x="84.05" y="386.6" font-size="6.9" font-weight="bold" text-anchor="middle" fill="#111">15</text>
<line x1="93.56" y1="379.1" x2="93.56" y2="381.2" stroke="#333" stroke-width="1"/>
<text x="93.56" y="386.6" font-size="6.9" font-weight="bold" text-anchor="middle" fill="#111">18</text>
<line x1="103.07" y1="379.1" x2="103.07" y2="381.2" stroke="#333" stroke-width="1"/>
<text x="103.07" y="386.6" font-size="6.9" font-weight="bold" text-anchor="middle" fill="#111">21</text>
<line x1="112.58" y1="379.1" x2="112.58" y2="381.2" stroke="#333" stroke-width="1"/>
<text x="112.58" y="386.6" font-size="6.9" font-weight="bold" text-anchor="middle" fill="#111">24</text>
<line x1="122.09" y1="379.1" x2="122.09" y2="381.2" stroke="#333" stroke-width="1"/>
<text x="122.09" y="386.6" font-size="6.9" font-weight="bold" text-anchor="middle" fill="#111">27</text>
<line x1="131.6" y1="379.1" x2="131.6" y2="381.2" stroke="#333" stroke-width="1"/>
<text x="131.6" y="386.6" font-size="6.9" font-weight="bold" text-anchor="middle" fill="#111">30</text>
<line x1="141.11" y1="379.1" x2="141.11" y2="381.2" stroke="#333" stroke-width="1"/>
<text x="141.11" y="386.6" font-size="6.9" font-weight="bold" text-anchor="middle" fill="#111">33</text>
<line x1="150.62" y1="379.1" x2="150.62" y2="381.2" stroke="#333" stroke-width="1"/>
<text x="150.62" y="386.6" font-size="6.9" font-weight="bold" text-anchor="middle" fill="#111">36</text>
<line x1="160.13" y1="379.1" x2="160.13" y2="381.2" stroke="#333" stroke-width="1"/>
<text x="160.13" y="386.6" font-size="6.9" font-weight="bold" text-anchor="middle" fill="#111">39</text>
<text x="104.8" y="396.8" font-size="8" font-weight="bold" text-anchor="middle" fill="#111" textLength="18" lengthAdjust="spacingAndGlyphs">Days</text>
<text x="16.2" y="333.0" font-size="7.8" font-weight="bold" text-anchor="middle" fill="#111" textLength="88.1" lengthAdjust="spacingAndGlyphs" transform="rotate(-90 16.2 333.0)">Photon flux (photons/sec)</text>
<polyline points="36.5,352.1 58.7,366.4 71.4,355 84.0,348.7 96.7,336 109.4,315.6 122.1,308.7 134.8,299.9" fill="none" stroke="#e02030" stroke-width="1.3"/>
<circle cx="36.5" cy="352.1" r="1.9" fill="#e02030"/>
<line x1="58.69" y1="363.9" x2="58.69" y2="368.9" stroke="#e02030" stroke-width="1"/>
<line x1="56.89" y1="363.9" x2="60.489999999999995" y2="363.9" stroke="#e02030" stroke-width="1"/>
<line x1="56.89" y1="368.9" x2="60.489999999999995" y2="368.9" stroke="#e02030" stroke-width="1"/>
<circle cx="58.7" cy="366.4" r="1.9" fill="#e02030"/>
<line x1="71.37" y1="352.0" x2="71.37" y2="358.0" stroke="#e02030" stroke-width="1"/>
<line x1="69.57000000000001" y1="352.0" x2="73.17" y2="352.0" stroke="#e02030" stroke-width="1"/>
<line x1="69.57000000000001" y1="358.0" x2="73.17" y2="358.0" stroke="#e02030" stroke-width="1"/>
<circle cx="71.4" cy="355" r="1.9" fill="#e02030"/>
<line x1="84.05" y1="344.2" x2="84.05" y2="353.2" stroke="#e02030" stroke-width="1"/>
<line x1="82.25" y1="344.2" x2="85.85" y2="344.2" stroke="#e02030" stroke-width="1"/>
<line x1="82.25" y1="353.2" x2="85.85" y2="353.2" stroke="#e02030" stroke-width="1"/>
<circle cx="84.0" cy="348.7" r="1.9" fill="#e02030"/>
<line x1="96.72999999999999" y1="330.5" x2="96.72999999999999" y2="341.5" stroke="#e02030" stroke-width="1"/>
<line x1="94.92999999999999" y1="330.5" x2="98.52999999999999" y2="330.5" stroke="#e02030" stroke-width="1"/>
<line x1="94.92999999999999" y1="341.5" x2="98.52999999999999" y2="341.5" stroke="#e02030" stroke-width="1"/>
<circle cx="96.7" cy="336" r="1.9" fill="#e02030"/>
<line x1="109.41" y1="311.0" x2="109.41" y2="320.20000000000005" stroke="#e02030" stroke-width="1"/>
<line x1="107.61" y1="311.0" x2="111.21" y2="311.0" stroke="#e02030" stroke-width="1"/>
<line x1="107.61" y1="320.20000000000005" x2="111.21" y2="320.20000000000005" stroke="#e02030" stroke-width="1"/>
<circle cx="109.4" cy="315.6" r="1.9" fill="#e02030"/>
<line x1="122.09" y1="305.5" x2="122.09" y2="311.9" stroke="#e02030" stroke-width="1"/>
<line x1="120.29" y1="305.5" x2="123.89" y2="305.5" stroke="#e02030" stroke-width="1"/>
<line x1="120.29" y1="311.9" x2="123.89" y2="311.9" stroke="#e02030" stroke-width="1"/>
<circle cx="122.1" cy="308.7" r="1.9" fill="#e02030"/>
<line x1="134.76999999999998" y1="298.4" x2="134.76999999999998" y2="301.4" stroke="#e02030" stroke-width="1"/>
<line x1="132.96999999999997" y1="298.4" x2="136.57" y2="298.4" stroke="#e02030" stroke-width="1"/>
<line x1="132.96999999999997" y1="301.4" x2="136.57" y2="301.4" stroke="#e02030" stroke-width="1"/>
<circle cx="134.8" cy="299.9" r="1.9" fill="#e02030"/>
<polyline points="36.5,352.1 58.7,367 71.4,359.1 84.0,360.1 96.7,358.2 109.4,336 122.1,329.8 134.8,320.8" fill="none" stroke="#77e040" stroke-width="1.3"/>
<rect x="34.6" y="350.20000000000005" width="3.8" height="3.8" fill="#77e040"/>
<line x1="58.69" y1="365" x2="58.69" y2="369" stroke="#77e040" stroke-width="1"/>
<line x1="56.89" y1="365" x2="60.489999999999995" y2="365" stroke="#77e040" stroke-width="1"/>
<line x1="56.89" y1="369" x2="60.489999999999995" y2="369" stroke="#77e040" stroke-width="1"/>
<rect x="56.8" y="365.1" width="3.8" height="3.8" fill="#77e040"/>
<line x1="71.37" y1="357.1" x2="71.37" y2="361.1" stroke="#77e040" stroke-width="1"/>
<line x1="69.57000000000001" y1="357.1" x2="73.17" y2="357.1" stroke="#77e040" stroke-width="1"/>
<line x1="69.57000000000001" y1="361.1" x2="73.17" y2="361.1" stroke="#77e040" stroke-width="1"/>
<rect x="69.5" y="357.20000000000005" width="3.8" height="3.8" fill="#77e040"/>
<line x1="84.05" y1="358.1" x2="84.05" y2="362.1" stroke="#77e040" stroke-width="1"/>
<line x1="82.25" y1="358.1" x2="85.85" y2="358.1" stroke="#77e040" stroke-width="1"/>
<line x1="82.25" y1="362.1" x2="85.85" y2="362.1" stroke="#77e040" stroke-width="1"/>
<rect x="82.1" y="358.20000000000005" width="3.8" height="3.8" fill="#77e040"/>
<line x1="96.72999999999999" y1="355.7" x2="96.72999999999999" y2="360.7" stroke="#77e040" stroke-width="1"/>
<line x1="94.92999999999999" y1="355.7" x2="98.52999999999999" y2="355.7" stroke="#77e040" stroke-width="1"/>
<line x1="94.92999999999999" y1="360.7" x2="98.52999999999999" y2="360.7" stroke="#77e040" stroke-width="1"/>
<rect x="94.8" y="356.3" width="3.8" height="3.8" fill="#77e040"/>
<line x1="109.41" y1="333" x2="109.41" y2="339" stroke="#77e040" stroke-width="1"/>
<line x1="107.61" y1="333" x2="111.21" y2="333" stroke="#77e040" stroke-width="1"/>
<line x1="107.61" y1="339" x2="111.21" y2="339" stroke="#77e040" stroke-width="1"/>
<rect x="107.5" y="334.1" width="3.8" height="3.8" fill="#77e040"/>
<line x1="122.09" y1="326.8" x2="122.09" y2="332.8" stroke="#77e040" stroke-width="1"/>
<line x1="120.29" y1="326.8" x2="123.89" y2="326.8" stroke="#77e040" stroke-width="1"/>
<line x1="120.29" y1="332.8" x2="123.89" y2="332.8" stroke="#77e040" stroke-width="1"/>
<rect x="120.2" y="327.90000000000003" width="3.8" height="3.8" fill="#77e040"/>
<line x1="134.76999999999998" y1="318.0" x2="134.76999999999998" y2="323.6" stroke="#77e040" stroke-width="1"/>
<line x1="132.96999999999997" y1="318.0" x2="136.57" y2="318.0" stroke="#77e040" stroke-width="1"/>
<line x1="132.96999999999997" y1="323.6" x2="136.57" y2="323.6" stroke="#77e040" stroke-width="1"/>
<rect x="132.9" y="318.90000000000003" width="3.8" height="3.8" fill="#77e040"/>
<polyline points="36.5,352.1 58.7,369.6 71.4,369 84.0,368 96.7,356 109.4,350.6 122.1,339.4 134.8,332.1" fill="none" stroke="#3344dd" stroke-width="1.3"/>
<path d="M34.5 353.70000000000005L38.5 353.70000000000005L36.5 350.1Z" fill="#3344dd"/>
<line x1="58.69" y1="365.6" x2="58.69" y2="373.6" stroke="#3344dd" stroke-width="1"/>
<line x1="56.89" y1="365.6" x2="60.489999999999995" y2="365.6" stroke="#3344dd" stroke-width="1"/>
<line x1="56.89" y1="373.6" x2="60.489999999999995" y2="373.6" stroke="#3344dd" stroke-width="1"/>
<path d="M56.7 371.20000000000005L60.7 371.20000000000005L58.7 367.6Z" fill="#3344dd"/>
<line x1="71.37" y1="365" x2="71.37" y2="373" stroke="#3344dd" stroke-width="1"/>
<line x1="69.57000000000001" y1="365" x2="73.17" y2="365" stroke="#3344dd" stroke-width="1"/>
<line x1="69.57000000000001" y1="373" x2="73.17" y2="373" stroke="#3344dd" stroke-width="1"/>
<path d="M69.4 370.6L73.4 370.6L71.4 367Z" fill="#3344dd"/>
<line x1="84.05" y1="364" x2="84.05" y2="372" stroke="#3344dd" stroke-width="1"/>
<line x1="82.25" y1="364" x2="85.85" y2="364" stroke="#3344dd" stroke-width="1"/>
<line x1="82.25" y1="372" x2="85.85" y2="372" stroke="#3344dd" stroke-width="1"/>
<path d="M82.0 369.6L86.0 369.6L84.0 366Z" fill="#3344dd"/>
<line x1="96.72999999999999" y1="353" x2="96.72999999999999" y2="359" stroke="#3344dd" stroke-width="1"/>
<line x1="94.92999999999999" y1="353" x2="98.52999999999999" y2="353" stroke="#3344dd" stroke-width="1"/>
<line x1="94.92999999999999" y1="359" x2="98.52999999999999" y2="359" stroke="#3344dd" stroke-width="1"/>
<path d="M94.7 357.6L98.7 357.6L96.7 354Z" fill="#3344dd"/>
<line x1="109.41" y1="347.6" x2="109.41" y2="353.6" stroke="#3344dd" stroke-width="1"/>
<line x1="107.61" y1="347.6" x2="111.21" y2="347.6" stroke="#3344dd" stroke-width="1"/>
<line x1="107.61" y1="353.6" x2="111.21" y2="353.6" stroke="#3344dd" stroke-width="1"/>
<path d="M107.4 352.20000000000005L111.4 352.20000000000005L109.4 348.6Z" fill="#3344dd"/>
<line x1="122.09" y1="336.9" x2="122.09" y2="341.9" stroke="#3344dd" stroke-width="1"/>
<line x1="120.29" y1="336.9" x2="123.89" y2="336.9" stroke="#3344dd" stroke-width="1"/>
<line x1="120.29" y1="341.9" x2="123.89" y2="341.9" stroke="#3344dd" stroke-width="1"/>
<path d="M120.1 341.0L124.1 341.0L122.1 337.4Z" fill="#3344dd"/>
<line x1="134.76999999999998" y1="329.3" x2="134.76999999999998" y2="334.90000000000003" stroke="#3344dd" stroke-width="1"/>
<line x1="132.96999999999997" y1="329.3" x2="136.57" y2="329.3" stroke="#3344dd" stroke-width="1"/>
<line x1="132.96999999999997" y1="334.90000000000003" x2="136.57" y2="334.90000000000003" stroke="#3344dd" stroke-width="1"/>
<path d="M132.8 333.70000000000005L136.8 333.70000000000005L134.8 330.1Z" fill="#3344dd"/>
<line x1="37.7" y1="297.2" x2="46.5" y2="297.2" stroke="#e02030" stroke-width="1"/>
<circle cx="42.1" cy="297.2" r="1.8" fill="#e02030"/>
<text x="51.3" y="299.5" font-size="6.4" font-weight="bold" text-anchor="start" fill="#111" textLength="15" lengthAdjust="spacingAndGlyphs">–Dox</text>
<line x1="37.7" y1="306.8" x2="46.5" y2="306.8" stroke="#77e040" stroke-width="1"/>
<rect x="40.300000000000004" y="305.0" width="3.6" height="3.6" fill="#77e040"/>
<text x="51.3" y="309.1" font-size="6.4" font-weight="bold" text-anchor="start" fill="#111" textLength="36" lengthAdjust="spacingAndGlyphs">+DOX (day 7)</text>
<line x1="37.7" y1="317" x2="46.5" y2="317" stroke="#3344dd" stroke-width="1"/>
<path d="M40.1 318.5L44.1 318.5L42.1 315.1Z" fill="#3344dd"/>
<text x="51.3" y="319.3" font-size="6.4" font-weight="bold" text-anchor="start" fill="#111" textLength="35.2" lengthAdjust="spacingAndGlyphs">+Dox (day 1)</text>
<text x="73.9" y="299.8" font-size="6.6" font-weight="normal" text-anchor="start" fill="#111" textLength="15.5" lengthAdjust="spacingAndGlyphs"><tspan font-style="italic">n</tspan> = 10</text>
<text x="89.4" y="311.0" font-size="6.6" font-weight="normal" text-anchor="start" fill="#111" textLength="15.5" lengthAdjust="spacingAndGlyphs"><tspan font-style="italic">n</tspan> = 10</text>
<text x="89.4" y="319.3" font-size="6.6" font-weight="normal" text-anchor="start" fill="#111" textLength="15.5" lengthAdjust="spacingAndGlyphs"><tspan font-style="italic">n</tspan> = 10</text>
<line x1="140.6" y1="297.4" x2="140.6" y2="322.2" stroke="#c8a0b0" stroke-width="0.8"/>
<polygon points="143.40,301.20 143.99,302.78 145.68,302.86 144.36,303.91 144.81,305.54 143.40,304.61 141.99,305.54 142.44,303.91 141.12,302.86 142.81,302.78" fill="#111"/>
<polygon points="143.40,307.80 143.99,309.38 145.68,309.46 144.36,310.51 144.81,312.14 143.40,311.21 141.99,312.14 142.44,310.51 141.12,309.46 142.81,309.38" fill="#111"/>
<line x1="143.8" y1="320.1" x2="143.8" y2="333.2" stroke="#a0a888" stroke-width="0.8"/>
<polygon points="146.60,323.90 147.19,325.48 148.88,325.56 147.56,326.61 148.01,328.24 146.60,327.31 145.19,328.24 145.64,326.61 144.32,325.56 146.01,325.48" fill="#111"/>
<line x1="192.7" y1="294" x2="192.7" y2="376.4" stroke="#333" stroke-width="1"/>
<line x1="192.2" y1="375.9" x2="315" y2="375.9" stroke="#333" stroke-width="1"/>
<line x1="190.5" y1="375.9" x2="192.7" y2="375.9" stroke="#333" stroke-width="1"/>
<text x="189.9" y="378.4" font-size="7" font-weight="bold" text-anchor="end" fill="#111">0</text>
<line x1="190.5" y1="348.7" x2="192.7" y2="348.7" stroke="#333" stroke-width="1"/>
<text x="189.9" y="351.2" font-size="7" font-weight="bold" text-anchor="end" fill="#111">50</text>
<line x1="190.5" y1="321.5" x2="192.7" y2="321.5" stroke="#333" stroke-width="1"/>
<text x="189.9" y="324.0" font-size="7" font-weight="bold" text-anchor="end" fill="#111">100</text>
<line x1="190.5" y1="294.3" x2="192.7" y2="294.3" stroke="#333" stroke-width="1"/>
<text x="189.9" y="296.8" font-size="7" font-weight="bold" text-anchor="end" fill="#111">150</text>
<line x1="192.7" y1="375.9" x2="192.7" y2="378" stroke="#333" stroke-width="1"/>
<text x="192.7" y="385" font-size="7" font-weight="bold" text-anchor="middle" fill="#111">0</text>
<line x1="223.175" y1="375.9" x2="223.175" y2="378" stroke="#333" stroke-width="1"/>
<text x="223.175" y="385" font-size="7" font-weight="bold" text-anchor="middle" fill="#111">10</text>
<line x1="253.65" y1="375.9" x2="253.65" y2="378" stroke="#333" stroke-width="1"/>
<text x="253.65" y="385" font-size="7" font-weight="bold" text-anchor="middle" fill="#111">20</text>
<line x1="284.125" y1="375.9" x2="284.125" y2="378" stroke="#333" stroke-width="1"/>
<text x="284.125" y="385" font-size="7" font-weight="bold" text-anchor="middle" fill="#111">30</text>
<line x1="314.6" y1="375.9" x2="314.6" y2="378" stroke="#333" stroke-width="1"/>
<text x="314.6" y="385" font-size="7" font-weight="bold" text-anchor="middle" fill="#111">40</text>
<text x="254.6" y="394.5" font-size="8" font-weight="bold" text-anchor="middle" fill="#111" textLength="18" lengthAdjust="spacingAndGlyphs">Days</text>
<text x="177.0" y="335.6" font-size="8" font-weight="bold" text-anchor="middle" fill="#111" textLength="102.7" lengthAdjust="spacingAndGlyphs" transform="rotate(-90 177.0 335.6)">Brain metastasis-free survival</text>
<path d="M192.7 321.5H229.3V321.5H229.3V343.3H250.6V343.3H250.6V365.0H272.8V365.0H272.8V375.9" fill="none" stroke="#e04048" stroke-width="1.25"/>
<path d="M192.7 321.5H250.6V321.5H250.6V337.8H272.8V337.8H272.8V349.2H290.8V349.2H290.8V354.1" fill="none" stroke="#80e050" stroke-width="1.25"/>
<path d="M192.7 321.5H250.6V321.5H250.6V326.9H272.8V326.9H272.8V337.8H290.8V337.8H290.8V342.7" fill="none" stroke="#4a62d8" stroke-width="1.25"/>
<line x1="197.5" y1="296.6" x2="207" y2="296.6" stroke="#e04040" stroke-width="1"/>
<path d="M200.5 297.90000000000003L203.5 297.90000000000003L202 295.20000000000005Z" fill="#e04040"/>
<text x="210.8" y="298.90000000000003" font-size="6.4" font-weight="bold" text-anchor="start" fill="#111" textLength="15" lengthAdjust="spacingAndGlyphs">–Dox</text>
<line x1="197.5" y1="306.2" x2="207" y2="306.2" stroke="#80e050" stroke-width="1"/>
<path d="M200.5 307.5L203.5 307.5L202 304.8Z" fill="#80e050"/>
<text x="210.8" y="308.5" font-size="6.4" font-weight="bold" text-anchor="start" fill="#111" textLength="36.5" lengthAdjust="spacingAndGlyphs">+Dox (day 7)</text>
<line x1="197.5" y1="315.8" x2="207" y2="315.8" stroke="#4a6ae0" stroke-width="1"/>
<path d="M200.5 317.1L203.5 317.1L202 314.40000000000003Z" fill="#4a6ae0"/>
<text x="210.8" y="318.1" font-size="6.4" font-weight="bold" text-anchor="start" fill="#111" textLength="36.5" lengthAdjust="spacingAndGlyphs">+Dox (day 1)</text>
<line x1="294.0" y1="336.2" x2="294.0" y2="354.4" stroke="#555" stroke-width="0.9"/>
<polygon points="296.90,342.80 297.49,344.38 299.18,344.46 297.86,345.51 298.31,347.14 296.90,346.21 295.49,347.14 295.94,345.51 294.62,344.46 296.31,344.38" fill="#111"/>
<line x1="302.3" y1="338.5" x2="302.3" y2="373.7" stroke="#555" stroke-width="0.9"/>
<polygon points="305.00,355.90 305.59,357.48 307.28,357.56 305.96,358.61 306.41,360.24 305.00,359.31 303.59,360.24 304.04,358.61 302.72,357.56 304.41,357.48" fill="#111"/>
<polygon points="305.00,364.50 305.59,366.08 307.28,366.16 305.96,367.21 306.41,368.84 305.00,367.91 303.59,368.84 304.04,367.21 302.72,366.16 304.41,366.08" fill="#111"/>
<line x1="311.3" y1="350.6" x2="311.3" y2="373.7" stroke="#888" stroke-width="0.9"/>
<polygon points="314.20,355.90 314.79,357.48 316.48,357.56 315.16,358.61 315.61,360.24 314.20,359.31 312.79,360.24 313.24,358.61 311.92,357.56 313.61,357.48" fill="#111"/>
<polygon points="314.20,364.50 314.79,366.08 316.48,366.16 315.16,367.21 315.61,368.84 314.20,367.91 312.79,368.84 313.24,367.21 311.92,366.16 313.61,366.08" fill="#111"/>
<text x="363.8" y="281.2" font-size="8.2" font-weight="bold" text-anchor="middle" fill="#111" textLength="18.2" lengthAdjust="spacingAndGlyphs">–Dox</text>
<text x="420.3" y="281.4" font-size="8.2" font-weight="bold" text-anchor="middle" fill="#111" textLength="46" lengthAdjust="spacingAndGlyphs">+Dox (day 1)</text>
<text x="481.4" y="281.4" font-size="8.2" font-weight="bold" text-anchor="middle" fill="#111" textLength="45.1" lengthAdjust="spacingAndGlyphs">+Dox (day 7)</text>
<text x="328.3" y="308.2" font-size="7.8" font-weight="bold" text-anchor="middle" fill="#111" textLength="16.7" lengthAdjust="spacingAndGlyphs" transform="rotate(-90 328.3 308.2)">Day 1</text>
<text x="328.7" y="356.2" font-size="7.8" font-weight="bold" text-anchor="middle" fill="#111" textLength="21.5" lengthAdjust="spacingAndGlyphs" transform="rotate(-90 328.7 356.2)">Day 30</text>
<text x="328.8" y="386.8" font-size="7.8" font-weight="bold" text-anchor="middle" fill="#111" textLength="22" lengthAdjust="spacingAndGlyphs" transform="rotate(-90 328.8 386.8)" font-style="italic">Ex vivo</text>
<defs><filter id="mb" x="-30%" y="-30%" width="160%" height="160%"><feGaussianBlur stdDeviation="0.6"/></filter><filter id="mb2" x="-50%" y="-50%" width="200%" height="200%"><feGaussianBlur stdDeviation="1.1"/></filter><radialGradient id="hot"><stop offset="0" stop-color="#b01010"/><stop offset="0.18" stop-color="#e87818"/><stop offset="0.34" stop-color="#e0e020"/><stop offset="0.52" stop-color="#40e040"/><stop offset="0.72" stop-color="#20d0f0"/><stop offset="0.9" stop-color="#2a70f0" stop-opacity="0.6"/><stop offset="1" stop-color="#2a40f0" stop-opacity="0"/></radialGradient><radialGradient id="warm"><stop offset="0" stop-color="#a8e830"/><stop offset="0.35" stop-color="#40e050"/><stop offset="0.65" stop-color="#20d0e8"/><stop offset="0.88" stop-color="#3070f0" stop-opacity="0.6"/><stop offset="1" stop-color="#2a40f0" stop-opacity="0"/></radialGradient><radialGradient id="cool"><stop offset="0" stop-color="#60e8f0"/><stop offset="0.45" stop-color="#30b0f0"/><stop offset="0.8" stop-color="#3070f0" stop-opacity="0.6"/><stop offset="1" stop-color="#2a40f0" stop-opacity="0"/></radialGradient><linearGradient id="cb" x1="0" y1="0" x2="0" y2="1"><stop offset="0" stop-color="#d81010"/><stop offset="0.2" stop-color="#f08010"/><stop offset="0.38" stop-color="#e8e020"/><stop offset="0.55" stop-color="#40e040"/><stop offset="0.72" stop-color="#20c0e0"/><stop offset="1" stop-color="#2020e0"/></linearGradient></defs>
<rect x="331.2" y="284.6" width="16.4" height="43.9" fill="#333"/>
<g filter="url(#mb)"><path d="M334.9 287.6 L343.9 287.6 L346.1 292.6 L347.1 296.6 L346.4 300.6 L346.8 319.5 L347.0 327.5 L342.9 327.5 L340.9 324.5 L337.9 324.5 L335.9 327.5 L331.8 327.5 L332.0 319.5 L332.4 300.6 L331.7 296.6 L332.7 292.6Z" fill="#dcdcdc"/></g>
<g filter="url(#mb)"><ellipse cx="339.4" cy="291.6" rx="4.2" ry="5" fill="#2438ee"/><path d="M335.4 295.1 Q339.4 293.6 343.4 295.1 L344.6 297.6 L345.8 301.6 L345.7 311.5 Q344.4 314.5 339.4 315.5 Q334.4 314.5 333.1 311.5 L333.0 301.6 L334.2 297.6Z" fill="#2a3ef0"/></g>
<ellipse cx="339.4" cy="291.1" rx="2.99" ry="2.99" fill="url(#warm)"/>
<ellipse cx="334.4" cy="310.6" rx="2.07" ry="2.30" fill="url(#cool)"/>
<rect x="331.2" y="332.2" width="16.4" height="44.6" fill="#2c2c2c"/>
<g filter="url(#mb)"><path d="M335.9 336.2 L342.9 336.2 L344.4 340.2 L346.8 342.2 L346.8 347.2 L347.0 370.8 L345.9 375.6 L342.4 375.6 L340.9 373.3 L337.9 373.3 L336.4 375.6 L332.9 375.6 L331.8 370.8 L332.0 347.2 L332.0 342.2 L334.4 340.2Z" fill="#e8e8e8"/></g>
<rect x="334.9" y="333.59999999999997" width="9" height="2.2" fill="#f0d8d8" filter="url(#mb)"/>
<rect x="336.4" y="334.3" width="6" height="0.8" fill="#d05050"/>
<g filter="url(#mb)">
<ellipse cx="339.4" cy="341.2" rx="4" ry="5" fill="#4048e0" fill-opacity="0.85"/>
<ellipse cx="336.4" cy="345.2" rx="1.5" ry="1.5" fill="#4048e0" fill-opacity="0.85"/>
</g>
<rect x="331.2" y="379.8" width="16.4" height="15.4" fill="#121212"/>
<g filter="url(#mb)"><rect x="332.0" y="380.6" width="14.8" height="13.8" rx="2" fill="#2a3cf0"/><ellipse cx="339.4" cy="387.5" rx="5.5" ry="5" fill="url(#warm)"/><ellipse cx="338.4" cy="386.5" rx="3.5" ry="3.2" fill="url(#hot)"/><circle cx="341.4" cy="389.5" r="2.2" fill="url(#warm)"/></g>
<rect x="349.8" y="284.6" width="17.6" height="43.9" fill="#333"/>
<g filter="url(#mb)"><path d="M354.1 287.6 L363.1 287.6 L365.9 292.6 L366.9 296.6 L366.2 300.6 L366.0 319.5 L366.8 327.5 L362.1 327.5 L360.1 324.5 L357.1 324.5 L355.1 327.5 L350.4 327.5 L351.2 319.5 L351.0 300.6 L350.3 296.6 L351.3 292.6Z" fill="#dcdcdc"/></g>
<g filter="url(#mb)"><ellipse cx="358.6" cy="291.6" rx="4.2" ry="5" fill="#2438ee"/><path d="M354.6 295.1 Q358.6 293.6 362.6 295.1 L363.8 297.6 L365.0 301.6 L364.9 313.6 Q363.6 316.6 358.6 317.6 Q353.6 316.6 352.3 313.6 L352.2 301.6 L353.4 297.6Z" fill="#2a3ef0"/></g>
<ellipse cx="358.6" cy="291.1" rx="3.91" ry="3.91" fill="url(#hot)"/>
<ellipse cx="354.6" cy="305.6" rx="2.07" ry="1.72" fill="url(#cool)"/>
<ellipse cx="354.1" cy="310.6" rx="3.22" ry="3.22" fill="url(#warm)"/>
<ellipse cx="362.1" cy="310.6" rx="2.30" ry="2.30" fill="url(#cool)"/>
<rect x="349.8" y="332.2" width="17.6" height="44.6" fill="#2c2c2c"/>
<g filter="url(#mb)"><path d="M355.1 336.2 L362.1 336.2 L363.6 340.2 L366.6 342.2 L366.0 347.2 L366.2 370.8 L365.1 375.6 L361.6 375.6 L360.1 373.3 L357.1 373.3 L355.6 375.6 L352.1 375.6 L351.0 370.8 L351.2 347.2 L350.6 342.2 L353.6 340.2Z" fill="#e8e8e8"/></g>
<rect x="354.1" y="333.59999999999997" width="9" height="2.2" fill="#f0d8d8" filter="url(#mb)"/>
<rect x="355.6" y="334.3" width="6" height="0.8" fill="#d05050"/>
<g filter="url(#mb)">
<ellipse cx="360.6" cy="344.2" rx="4.5" ry="6" fill="#4048e0" fill-opacity="0.85" transform="rotate(-40 360.6 344.2)"/>
<ellipse cx="356.6" cy="341.2" rx="2.5" ry="2" fill="#4048e0" fill-opacity="0.85"/>
<ellipse cx="363.6" cy="349.2" rx="2" ry="3" fill="#4048e0" fill-opacity="0.85"/>
<ellipse cx="358.2" cy="356.2" rx="0.9" ry="0.9" fill="#4048e0" fill-opacity="0.85"/>
</g>
<rect x="349.8" y="379.8" width="17.6" height="15.4" fill="#121212"/>
<g filter="url(#mb)"><ellipse cx="358.6" cy="387.5" rx="5.6" ry="5.3" fill="#262a48"/><ellipse cx="358.1" cy="387.0" rx="3" ry="2.6" fill="#3444b8"/><circle cx="360.6" cy="389.0" r="1.2" fill="#4050c8"/></g>
<rect x="369" y="284.6" width="17.3" height="43.9" fill="#333"/>
<g filter="url(#mb)"><path d="M373.1 287.6 L382.1 287.6 L384.8 292.6 L385.8 296.6 L385.1 300.6 L385.0 319.5 L385.7 327.5 L381.1 327.5 L379.1 324.5 L376.1 324.5 L374.1 327.5 L369.6 327.5 L370.2 319.5 L370.2 300.6 L369.5 296.6 L370.5 292.6Z" fill="#dcdcdc"/></g>
<g filter="url(#mb)"><ellipse cx="377.6" cy="291.6" rx="4.2" ry="5" fill="#2438ee"/><path d="M373.6 295.1 Q377.6 293.6 381.6 295.1 L382.8 297.6 L384.0 301.6 L383.9 313.6 Q382.6 316.6 377.6 317.6 Q372.6 316.6 371.3 313.6 L371.2 301.6 L372.4 297.6Z" fill="#2a3ef0"/></g>
<path d="M371.5 296.5 Q377.5 299.5 384 296.5" fill="none" stroke="#e0e0ec" stroke-width="2.4" filter="url(#mb)"/>
<ellipse cx="377.6" cy="290.6" rx="2.99" ry="2.99" fill="url(#cool)"/>
<ellipse cx="374.6" cy="311.6" rx="2.07" ry="2.07" fill="url(#cool)"/>
<rect x="369" y="332.2" width="17.3" height="44.6" fill="#2c2c2c"/>
<g filter="url(#mb)"><path d="M374.1 336.2 L381.1 336.2 L382.6 340.2 L385.5 342.2 L385.0 347.2 L385.2 370.8 L384.1 375.6 L380.6 375.6 L379.1 373.3 L376.1 373.3 L374.6 375.6 L371.1 375.6 L370.0 370.8 L370.2 347.2 L369.8 342.2 L372.6 340.2Z" fill="#e8e8e8"/></g>
<rect x="373.1" y="333.59999999999997" width="9" height="2.2" fill="#f0d8d8" filter="url(#mb)"/>
<rect x="374.6" y="334.3" width="6" height="0.8" fill="#d05050"/>
<g filter="url(#mb)">
<ellipse cx="376.3" cy="344.4" rx="2.5" ry="2.3" fill="#4048e0" fill-opacity="0.85"/>
<ellipse cx="382.6" cy="346.2" rx="1.8" ry="3" fill="#4048e0" fill-opacity="0.85"/>
<ellipse cx="376.0" cy="358.8" rx="1.8" ry="4.8" fill="#4048e0" fill-opacity="0.85" transform="rotate(-25 376.0 358.8)"/>
<ellipse cx="372.0" cy="367.0" rx="1.5" ry="1.5" fill="#4048e0" fill-opacity="0.85"/>
<ellipse cx="383.8" cy="370.0" rx="1.5" ry="1.5" fill="#4048e0" fill-opacity="0.85"/>
</g>
<rect x="369" y="379.8" width="17.3" height="15.4" fill="#121212"/>
<g filter="url(#mb)"><ellipse cx="377.65" cy="387.5" rx="5.6" ry="5.3" fill="#262a48"/><ellipse cx="377.15" cy="387.0" rx="3" ry="2.6" fill="#3444b8"/><circle cx="379.65" cy="389.0" r="1.2" fill="#4050c8"/></g>
<rect x="389.6" y="284.6" width="17.1" height="43.9" fill="#333"/>
<g filter="url(#mb)"><path d="M393.6 287.6 L402.6 287.6 L405.2 292.6 L406.2 296.6 L405.5 300.6 L405.5 319.5 L406.1 327.5 L401.6 327.5 L399.6 324.5 L396.6 324.5 L394.6 327.5 L390.2 327.5 L390.8 319.5 L390.8 300.6 L390.1 296.6 L391.1 292.6Z" fill="#dcdcdc"/></g>
<g filter="url(#mb)"><ellipse cx="398.1" cy="291.6" rx="4.2" ry="5" fill="#2438ee"/><path d="M394.1 295.1 Q398.1 293.6 402.1 295.1 L403.3 297.6 L404.5 301.6 L404.4 313.2 Q403.1 316.2 398.1 317.2 Q393.1 316.2 391.8 313.2 L391.8 301.6 L392.9 297.6Z" fill="#2a3ef0"/></g>
<path d="M391.5 300 Q396 298 400.5 295.5" fill="none" stroke="#e0e0ec" stroke-width="2.4" filter="url(#mb)"/>
<ellipse cx="401.1" cy="291.6" rx="2.88" ry="2.88" fill="url(#cool)"/>
<ellipse cx="395.1" cy="309.1" rx="3.91" ry="3.91" fill="url(#warm)"/>
<ellipse cx="402.6" cy="311.1" rx="2.30" ry="2.30" fill="url(#cool)"/>
<rect x="389.6" y="332.2" width="17.1" height="44.6" fill="#2c2c2c"/>
<g filter="url(#mb)"><path d="M394.6 336.2 L401.6 336.2 L403.1 340.2 L405.9 342.2 L405.5 347.2 L405.8 370.8 L404.6 375.6 L401.1 375.6 L399.6 373.3 L396.6 373.3 L395.1 375.6 L391.6 375.6 L390.5 370.8 L390.8 347.2 L390.4 342.2 L393.1 340.2Z" fill="#e8e8e8"/></g>
<rect x="393.6" y="333.59999999999997" width="9" height="2.2" fill="#f0d8d8" filter="url(#mb)"/>
<rect x="395.1" y="334.3" width="6" height="0.8" fill="#d05050"/>
<g filter="url(#mb)">
<ellipse cx="398.1" cy="335.8" rx="3" ry="2" fill="#4048e0" fill-opacity="0.85"/>
<ellipse cx="398.6" cy="341.7" rx="1.5" ry="1.5" fill="#4048e0" fill-opacity="0.85"/>
<ellipse cx="402.1" cy="359.2" rx="1.2" ry="2" fill="#4048e0" fill-opacity="0.85"/>
<ellipse cx="392.1" cy="368.2" rx="1.2" ry="1.2" fill="#4048e0" fill-opacity="0.85"/>
</g>
<rect x="389.6" y="379.8" width="17.1" height="15.4" fill="#121212"/>
<g filter="url(#mb)"><ellipse cx="398.15" cy="387.5" rx="6" ry="5.6" fill="#22262a"/><ellipse cx="398.15" cy="387.5" rx="6" ry="5.6" fill="none" stroke="#3c4248" stroke-width="0.9"/></g>
<rect x="408.5" y="284.6" width="17.3" height="43.9" fill="#333"/>
<g filter="url(#mb)"><path d="M412.6 287.6 L421.6 287.6 L424.3 292.6 L425.3 296.6 L424.6 300.6 L424.5 319.5 L425.2 327.5 L420.6 327.5 L418.6 324.5 L415.6 324.5 L413.6 327.5 L409.1 327.5 L409.8 319.5 L409.7 300.6 L409.0 296.6 L410.0 292.6Z" fill="#dcdcdc"/></g>
<g filter="url(#mb)"><ellipse cx="417.1" cy="291.6" rx="4.2" ry="5" fill="#2438ee"/><path d="M413.1 295.1 Q417.1 293.6 421.1 295.1 L422.3 297.6 L423.5 301.6 L423.4 320.2 Q422.1 323.2 417.1 324.2 Q412.1 323.2 410.8 320.2 L410.8 301.6 L411.9 297.6Z" fill="#2a3ef0"/></g>
<ellipse cx="417.1" cy="291.6" rx="3.68" ry="3.68" fill="url(#hot)"/>
<ellipse cx="417.6" cy="304.1" rx="4.60" ry="2.76" fill="url(#warm)"/>
<ellipse cx="414.1" cy="312.6" rx="3.22" ry="3.22" fill="url(#warm)"/>
<ellipse cx="421.6" cy="312.6" rx="3.22" ry="3.22" fill="url(#warm)"/>
<rect x="408.5" y="332.2" width="17.3" height="44.6" fill="#2c2c2c"/>
<g filter="url(#mb)"><path d="M413.6 336.2 L420.6 336.2 L422.1 340.2 L425.0 342.2 L424.5 347.2 L424.8 370.8 L423.6 375.6 L420.1 375.6 L418.6 373.3 L415.6 373.3 L414.1 375.6 L410.6 375.6 L409.5 370.8 L409.8 347.2 L409.3 342.2 L412.1 340.2Z" fill="#e8e8e8"/></g>
<rect x="412.6" y="333.59999999999997" width="9" height="2.2" fill="#f0d8d8" filter="url(#mb)"/>
<rect x="414.1" y="334.3" width="6" height="0.8" fill="#d05050"/>
<g filter="url(#mb)">
<ellipse cx="417.1" cy="347.2" rx="4" ry="3" fill="#4048e0" fill-opacity="0.85"/>
<ellipse cx="417.1" cy="356.2" rx="1.5" ry="1.5" fill="#4048e0" fill-opacity="0.85"/>
<ellipse cx="419.4" cy="358.2" rx="2" ry="2" fill="#4048e0" fill-opacity="0.85"/>
<ellipse cx="414.3" cy="360.2" rx="1.5" ry="1.5" fill="#4048e0" fill-opacity="0.85"/>
<ellipse cx="418.1" cy="367.2" rx="1" ry="1" fill="#4048e0" fill-opacity="0.85"/>
</g>
<rect x="408.5" y="379.8" width="17.3" height="15.4" fill="#121212"/>
<g filter="url(#mb)"><ellipse cx="417.15" cy="387.5" rx="6" ry="5.6" fill="#22262a"/><ellipse cx="417.15" cy="387.5" rx="6" ry="5.6" fill="none" stroke="#3c4248" stroke-width="0.9"/></g>
<rect x="427.7" y="284.6" width="17.3" height="43.9" fill="#333"/>
<g filter="url(#mb)"><path d="M431.9 287.6 L440.9 287.6 L443.5 292.6 L444.5 296.6 L443.8 300.6 L443.8 319.5 L444.4 327.5 L439.9 327.5 L437.9 324.5 L434.9 324.5 L432.9 327.5 L428.3 327.5 L429.0 319.5 L428.9 300.6 L428.2 296.6 L429.2 292.6Z" fill="#dcdcdc"/></g>
<g filter="url(#mb)"><ellipse cx="436.4" cy="291.6" rx="4.2" ry="5" fill="#2438ee"/><path d="M432.4 295.1 Q436.4 293.6 440.4 295.1 L441.6 297.6 L442.8 301.6 L442.7 311.5 Q441.4 314.5 436.4 315.5 Q431.4 314.5 430.1 311.5 L430.0 301.6 L431.2 297.6Z" fill="#2a3ef0"/></g>
<path d="M430.5 296.8 Q436 298.5 441 300" fill="none" stroke="#e0e0ec" stroke-width="2.4" filter="url(#mb)"/>
<ellipse cx="436.4" cy="290.9" rx="3.22" ry="3.22" fill="url(#cool)"/>
<ellipse cx="440.9" cy="309.6" rx="2.07" ry="2.30" fill="url(#cool)"/>
<rect x="427.7" y="332.2" width="17.3" height="44.6" fill="#2c2c2c"/>
<g filter="url(#mb)"><path d="M432.9 336.2 L439.9 336.2 L441.4 340.2 L444.2 342.2 L443.8 347.2 L444.0 370.8 L442.9 375.6 L439.4 375.6 L437.9 373.3 L434.9 373.3 L433.4 375.6 L429.9 375.6 L428.8 370.8 L429.0 347.2 L428.5 342.2 L431.4 340.2Z" fill="#e8e8e8"/></g>
<rect x="431.9" y="333.59999999999997" width="9" height="2.2" fill="#f0d8d8" filter="url(#mb)"/>
<rect x="433.4" y="334.3" width="6" height="0.8" fill="#d05050"/>
<g filter="url(#mb)">
<ellipse cx="430.1" cy="351.2" rx="1.5" ry="1.5" fill="#4048e0" fill-opacity="0.85"/>
<ellipse cx="435.9" cy="335.8" rx="2.5" ry="1.5" fill="#4048e0" fill-opacity="0.85"/>
</g>
<rect x="427.7" y="379.8" width="17.3" height="15.4" fill="#121212"/>
<g filter="url(#mb)"><ellipse cx="436.35" cy="387.5" rx="6" ry="5.6" fill="#22262a"/><ellipse cx="436.35" cy="387.5" rx="6" ry="5.6" fill="none" stroke="#3c4248" stroke-width="0.9"/></g>
<rect x="449.8" y="284.6" width="17.1" height="43.9" fill="#333"/>
<g filter="url(#mb)"><path d="M453.9 287.6 L462.9 287.6 L465.4 292.6 L466.4 296.6 L465.7 300.6 L465.8 319.5 L466.3 327.5 L461.9 327.5 L459.9 324.5 L456.9 324.5 L454.9 327.5 L450.4 327.5 L451.0 319.5 L451.0 300.6 L450.3 296.6 L451.3 292.6Z" fill="#dcdcdc"/></g>
<g filter="url(#mb)"><ellipse cx="458.4" cy="291.6" rx="4.2" ry="5" fill="#2438ee"/><path d="M454.4 295.1 Q458.4 293.6 462.4 295.1 L463.6 297.6 L464.8 301.6 L464.7 312.3 Q463.4 315.3 458.4 316.3 Q453.4 315.3 452.1 312.3 L452.0 301.6 L453.2 297.6Z" fill="#2a3ef0"/></g>
<ellipse cx="458.4" cy="290.6" rx="3.45" ry="3.45" fill="url(#warm)"/>
<ellipse cx="455.4" cy="309.1" rx="2.07" ry="2.07" fill="url(#cool)"/>
<ellipse cx="460.9" cy="308.1" rx="2.53" ry="2.53" fill="url(#warm)"/>
<rect x="449.8" y="332.2" width="17.1" height="44.6" fill="#2c2c2c"/>
<g filter="url(#mb)"><path d="M454.9 336.2 L461.9 336.2 L463.4 340.2 L466.1 342.2 L465.8 347.2 L466.0 370.8 L464.9 375.6 L461.4 375.6 L459.9 373.3 L456.9 373.3 L455.4 375.6 L451.9 375.6 L450.8 370.8 L451.0 347.2 L450.6 342.2 L453.4 340.2Z" fill="#e8e8e8"/></g>
<rect x="453.9" y="333.59999999999997" width="9" height="2.2" fill="#f0d8d8" filter="url(#mb)"/>
<rect x="455.4" y="334.3" width="6" height="0.8" fill="#d05050"/>
<g filter="url(#mb)">
<ellipse cx="454.9" cy="352.2" rx="2" ry="2.5" fill="#4048e0" fill-opacity="0.85"/>
<ellipse cx="454.4" cy="359.2" rx="2.5" ry="2" fill="#4048e0" fill-opacity="0.85"/>
<ellipse cx="460.7" cy="359.2" rx="1.8" ry="2.2" fill="#4048e0" fill-opacity="0.85"/>
<ellipse cx="458.4" cy="345.2" rx="1" ry="1" fill="#4048e0" fill-opacity="0.85"/>
</g>
<rect x="449.8" y="379.8" width="17.1" height="15.4" fill="#121212"/>
<g filter="url(#mb)"><ellipse cx="458.35" cy="387.5" rx="6" ry="5.6" fill="#22262a"/><ellipse cx="458.35" cy="387.5" rx="6" ry="5.6" fill="none" stroke="#3c4248" stroke-width="0.9"/></g>
<rect x="468.8" y="284.6" width="16.8" height="43.9" fill="#333"/>
<g filter="url(#mb)"><path d="M472.7 287.6 L481.7 287.6 L484.1 292.6 L485.1 296.6 L484.4 300.6 L484.6 319.5 L485.0 327.5 L480.7 327.5 L478.7 324.5 L475.7 324.5 L473.7 327.5 L469.4 327.5 L469.8 319.5 L470.0 300.6 L469.3 296.6 L470.3 292.6Z" fill="#dcdcdc"/></g>
<g filter="url(#mb)"><ellipse cx="477.2" cy="291.6" rx="4.2" ry="5" fill="#2438ee"/><path d="M473.2 295.1 Q477.2 293.6 481.2 295.1 L482.4 297.6 L483.6 301.6 L483.5 317.6 Q482.2 320.6 477.2 321.6 Q472.2 320.6 470.9 317.6 L470.8 301.6 L472.0 297.6Z" fill="#2a3ef0"/></g>
<ellipse cx="477.2" cy="290.6" rx="3.45" ry="3.45" fill="url(#warm)"/>
<ellipse cx="474.2" cy="312.6" rx="2.07" ry="2.30" fill="url(#cool)"/>
<ellipse cx="480.7" cy="311.6" rx="2.07" ry="2.30" fill="url(#cool)"/>
<rect x="468.8" y="332.2" width="16.8" height="44.6" fill="#2c2c2c"/>
<g filter="url(#mb)"><path d="M473.7 336.2 L480.7 336.2 L482.2 340.2 L484.8 342.2 L484.6 347.2 L484.8 370.8 L483.7 375.6 L480.2 375.6 L478.7 373.3 L475.7 373.3 L474.2 375.6 L470.7 375.6 L469.6 370.8 L469.8 347.2 L469.6 342.2 L472.2 340.2Z" fill="#e8e8e8"/></g>
<rect x="472.7" y="333.59999999999997" width="9" height="2.2" fill="#f0d8d8" filter="url(#mb)"/>
<rect x="474.2" y="334.3" width="6" height="0.8" fill="#d05050"/>
<g filter="url(#mb)">
<ellipse cx="476.3" cy="360.6" rx="2.5" ry="2.5" fill="#4048e0" fill-opacity="0.85"/>
<ellipse cx="475.0" cy="368.4" rx="1.5" ry="1.5" fill="#4048e0" fill-opacity="0.85"/>
<ellipse cx="477.6" cy="344.2" rx="1.2" ry="1.2" fill="#4048e0" fill-opacity="0.85"/>
</g>
<rect x="468.8" y="379.8" width="16.8" height="15.4" fill="#121212"/>
<g filter="url(#mb)"><ellipse cx="477.20000000000005" cy="387.5" rx="6" ry="5.6" fill="#22262a"/><ellipse cx="477.20000000000005" cy="387.5" rx="6" ry="5.6" fill="none" stroke="#3c4248" stroke-width="0.9"/></g>
<rect x="487" y="284.6" width="17.2" height="43.9" fill="#333"/>
<g filter="url(#mb)"><path d="M491.1 287.6 L500.1 287.6 L502.7 292.6 L503.7 296.6 L503.0 300.6 L503.0 319.5 L503.6 327.5 L499.1 327.5 L497.1 324.5 L494.1 324.5 L492.1 327.5 L487.6 327.5 L488.2 319.5 L488.2 300.6 L487.5 296.6 L488.5 292.6Z" fill="#dcdcdc"/></g>
<g filter="url(#mb)"><ellipse cx="495.6" cy="291.6" rx="4.2" ry="5" fill="#2438ee"/><path d="M491.6 295.1 Q495.6 293.6 499.6 295.1 L500.8 297.6 L502.0 301.6 L501.9 315.8 Q500.6 318.8 495.6 319.8 Q490.6 318.8 489.3 315.8 L489.2 301.6 L490.4 297.6Z" fill="#2a3ef0"/></g>
<ellipse cx="495.6" cy="291.1" rx="3.68" ry="3.68" fill="url(#hot)"/>
<ellipse cx="495.6" cy="299.6" rx="1.49" ry="1.49" fill="url(#cool)"/>
<ellipse cx="493.1" cy="311.6" rx="3.45" ry="2.76" fill="url(#warm)"/>
<ellipse cx="498.6" cy="311.6" rx="3.45" ry="2.76" fill="url(#warm)"/>
<rect x="487" y="332.2" width="17.2" height="44.6" fill="#2c2c2c"/>
<g filter="url(#mb)"><path d="M492.1 336.2 L499.1 336.2 L500.6 340.2 L503.4 342.2 L503.0 347.2 L503.2 370.8 L502.1 375.6 L498.6 375.6 L497.1 373.3 L494.1 373.3 L492.6 375.6 L489.1 375.6 L488.0 370.8 L488.2 347.2 L487.8 342.2 L490.6 340.2Z" fill="#e8e8e8"/></g>
<rect x="491.1" y="333.59999999999997" width="9" height="2.2" fill="#f0d8d8" filter="url(#mb)"/>
<rect x="492.6" y="334.3" width="6" height="0.8" fill="#d05050"/>
<g filter="url(#mb)">
<ellipse cx="493.9" cy="361.9" rx="3.5" ry="4" fill="#4048e0" fill-opacity="0.85"/>
<ellipse cx="491.3" cy="368.4" rx="3" ry="3" fill="#4048e0" fill-opacity="0.85"/>
<ellipse cx="499.8" cy="369.0" rx="1.8" ry="1.8" fill="#4048e0" fill-opacity="0.85"/>
<ellipse cx="496.6" cy="336.5" rx="3" ry="1.8" fill="#4048e0" fill-opacity="0.85"/>
</g>
<rect x="487" y="379.8" width="17.2" height="15.4" fill="#121212"/>
<g filter="url(#mb)"><ellipse cx="495.6" cy="387.5" rx="6" ry="5.6" fill="#22262a"/><ellipse cx="495.6" cy="387.5" rx="6" ry="5.6" fill="none" stroke="#3c4248" stroke-width="0.9"/></g>
<rect x="506" y="285.4" width="2.6" height="43.4" fill="url(#cb)" />
<rect x="506" y="331.2" width="2.6" height="45.2" fill="url(#cb)" />
<rect x="506" y="380.2" width="2.6" height="8.6" fill="url(#cb)" />
<text x="510.4" y="290.2" font-size="3.4" font-weight="normal" text-anchor="start" fill="#333">1.0</text>
<text x="510.4" y="303" font-size="3.4" font-weight="normal" text-anchor="start" fill="#333">1.0</text>
<text x="510.4" y="316.5" font-size="3.4" font-weight="normal" text-anchor="start" fill="#333">0.5</text>
<text x="510.4" y="334" font-size="3.4" font-weight="normal" text-anchor="start" fill="#333">5.0</text>
<text x="510.4" y="343.2" font-size="3.4" font-weight="normal" text-anchor="start" fill="#333">4.0</text>
<text x="510.4" y="352" font-size="3.4" font-weight="normal" text-anchor="start" fill="#333">3.0</text>
<text x="510.4" y="358.8" font-size="3.4" font-weight="normal" text-anchor="start" fill="#333">2.0</text>
<text x="510.4" y="368.2" font-size="3.4" font-weight="normal" text-anchor="start" fill="#333">1.0</text>
<text x="514" y="309" font-size="3.4" font-weight="normal" text-anchor="start" fill="#333">e6</text>
<text x="514" y="363" font-size="3.4" font-weight="normal" text-anchor="start" fill="#333">e6</text>
<text x="510.4" y="382" font-size="2.6" font-weight="normal" text-anchor="start" fill="#555">1</text>
<text x="510.4" y="386" font-size="2.6" font-weight="normal" text-anchor="start" fill="#555">3</text>
<text x="510.4" y="390" font-size="2.6" font-weight="normal" text-anchor="start" fill="#555">5</text>
</svg>
</body></html>
